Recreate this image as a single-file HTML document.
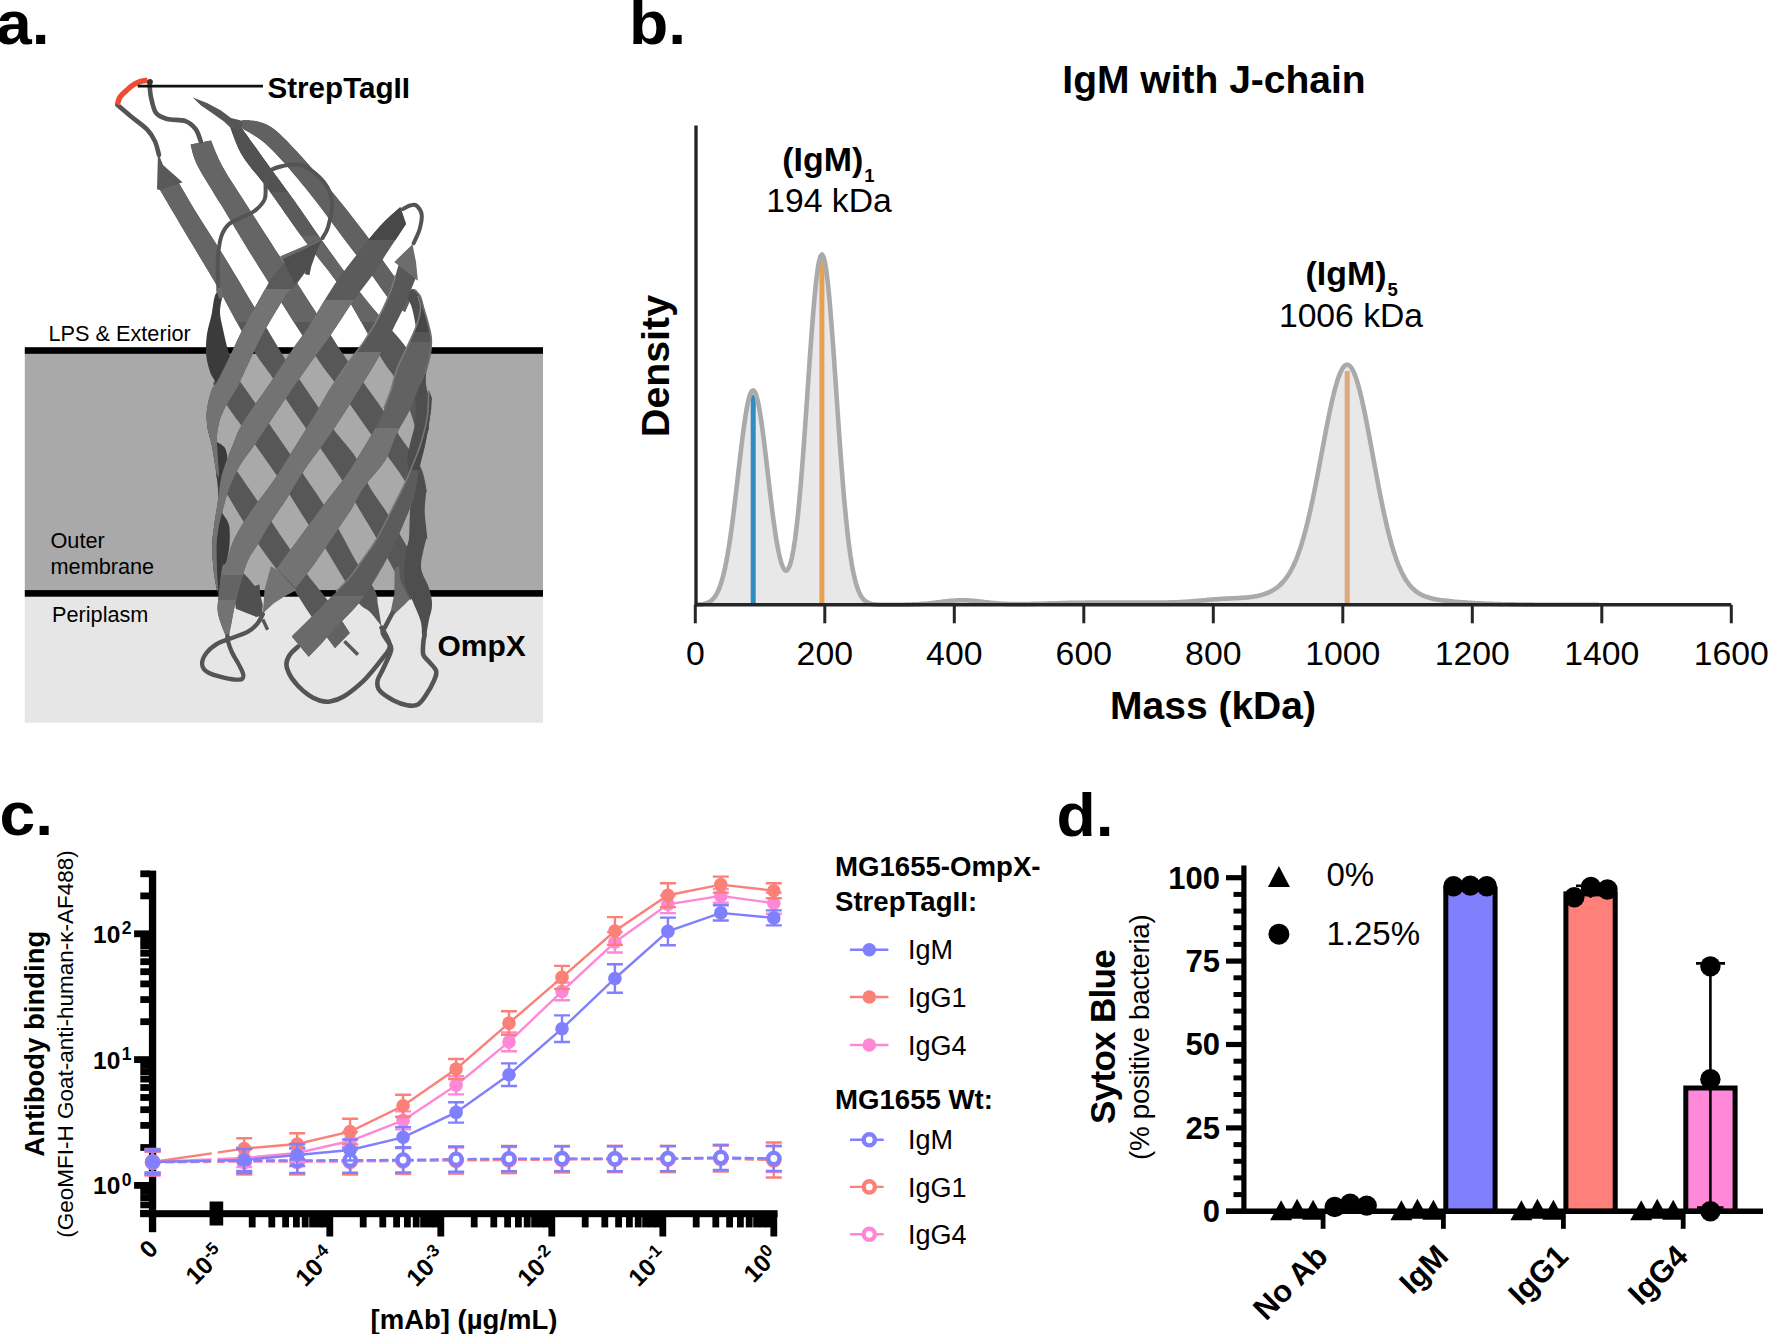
<!DOCTYPE html>
<html lang="en"><head><meta charset="utf-8"><title>Figure</title>
<style>
html,body{margin:0;padding:0;background:#fff;}
body{width:1768px;height:1334px;overflow:hidden;}
svg{display:block;}
text{font-family:"Liberation Sans",Arial,Helvetica,sans-serif;fill:#000;}
.b{font-weight:bold;}
</style></head><body>
<svg width="1768" height="1334" viewBox="0 0 1768 1334">
<rect width="1768" height="1334" fill="#fff"/>

<g id="panel-a">
<defs><clipPath id="cpTop"><rect x="0" y="0.0" width="600" height="322.0"/></clipPath><clipPath id="cpF1"><rect x="0" y="289.0" width="600" height="311.0"/></clipPath><clipPath id="cpF2"><rect x="0" y="300.0" width="600" height="300.0"/></clipPath><clipPath id="cpF2a"><rect x="0" y="0.0" width="600" height="240.0"/></clipPath><clipPath id="cpF3"><rect x="0" y="352.0" width="600" height="288.0"/></clipPath><clipPath id="cpF4"><rect x="0" y="428.0" width="600" height="212.0"/></clipPath><clipPath id="cpEnd"><rect x="0" y="622.0" width="600" height="78.0"/></clipPath><clipPath id="cpU3a"><rect x="0" y="0.0" width="600" height="192.0"/></clipPath><clipPath id="cpU3b"><rect x="0" y="192.0" width="600" height="44.0"/></clipPath><clipPath id="cpF4t"><rect x="0" y="0.0" width="600" height="332.0"/></clipPath><clipPath id="cpF4u"><rect x="0" y="332.0" width="600" height="10.0"/></clipPath><clipPath id="cpF5a"><rect x="0" y="380.0" width="600" height="90.0"/></clipPath><clipPath id="cpF5b"><rect x="0" y="596.0" width="600" height="104.0"/></clipPath><clipPath id="cpF3b"><rect x="0" y="575.0" width="600" height="25.0"/></clipPath></defs>
<text class="b" transform="translate(-4,43.5) scale(1.045,1)" font-size="61.5">a.</text>
<rect x="24.8" y="350" width="518.2" height="243" fill="#a9a9a9"/>
<rect x="24.8" y="593" width="518.2" height="129.8" fill="#e6e6e6"/>
<rect x="24.8" y="347.2" width="518.2" height="6.6" fill="#000"/>
<rect x="24.8" y="590.1" width="518.2" height="6.6" fill="#000"/>
<text x="48.5" y="340.7" font-size="21.7">LPS &amp; Exterior</text>
<text x="50.5" y="548.4" font-size="21.7">Outer</text>
<text x="50.5" y="574.2" font-size="21.7">membrane</text>
<text x="52" y="622.4" font-size="21.7">Periplasm</text>
<text class="b" x="437.5" y="656.3" font-size="30">OmpX</text>
<polygon points="248.0,577.8 254.7,585.9 259.5,584.5 260.1,594.0 262.8,604.7 262.2,615.5 256.1,616.9 235.9,608.8 234.0,596.0 238.0,582.0 242.0,572.0" fill="#505050" />
<path d="M344.4,641.2 L357.9,654.7" fill="none" stroke="#5a5a5a" stroke-width="3.6" stroke-linecap="butt" stroke-linejoin="round"/>
<path d="M216.0,476.0 C217.8,479.0 222.8,487.2 226.8,493.8 C230.8,500.4 234.6,507.3 240.0,515.9 C245.4,524.5 253.2,536.7 259.1,545.3 C265.0,553.9 269.5,559.9 275.3,567.4 C281.1,574.9 288.0,581.8 294.0,590.0 C300.0,598.2 304.7,606.8 311.5,616.4 C318.3,626.0 331.1,642.6 335.0,647.9 L349.8,633.1 C346.6,628.2 337.5,613.7 330.5,604.0 C323.5,594.3 314.1,583.5 307.6,574.7 C301.1,565.9 297.9,560.5 291.5,551.2 C285.1,541.9 275.5,527.9 269.4,518.8 C263.3,509.7 259.8,504.4 254.7,496.8 C249.5,489.2 242.9,479.7 238.5,473.2 C234.1,466.7 229.8,460.5 228.0,458.0 Z" fill="#575757" />
<g clip-path="url(#cpEnd)"><path d="M216.0,476.0 C217.8,479.0 222.8,487.2 226.8,493.8 C230.8,500.4 234.6,507.3 240.0,515.9 C245.4,524.5 253.2,536.7 259.1,545.3 C265.0,553.9 269.5,559.9 275.3,567.4 C281.1,574.9 288.0,581.8 294.0,590.0 C300.0,598.2 304.7,606.8 311.5,616.4 C318.3,626.0 331.1,642.6 335.0,647.9 L349.8,633.1 C346.6,628.2 337.5,613.7 330.5,604.0 C323.5,594.3 314.1,583.5 307.6,574.7 C301.1,565.9 297.9,560.5 291.5,551.2 C285.1,541.9 275.5,527.9 269.4,518.8 C263.3,509.7 259.8,504.4 254.7,496.8 C249.5,489.2 242.9,479.7 238.5,473.2 C234.1,466.7 229.8,460.5 228.0,458.0 Z" fill="#626262" /></g>
<path d="M213.0,384.0 C215.8,388.2 224.9,402.5 229.7,409.4 C234.4,416.3 237.1,419.5 241.5,425.6 C245.9,431.7 250.8,438.6 256.2,446.2 C261.6,453.8 268.2,463.0 273.8,471.2 C279.4,479.4 284.4,486.6 290.0,495.3 C295.6,504.0 301.7,514.4 307.6,523.2 C313.5,532.0 319.4,539.1 325.3,548.2 C331.2,557.3 337.3,568.5 342.9,577.6 C348.4,586.7 354.1,597.3 358.6,603.0 C363.1,608.7 366.2,608.1 370.0,612.0 C373.8,615.9 379.6,623.9 381.5,626.3 L381.5,626.3 C380.9,622.8 379.1,611.0 378.0,605.0 C376.9,599.0 378.3,597.2 374.7,590.0 C371.1,582.8 362.2,571.6 356.2,561.5 C350.2,551.4 344.1,538.9 338.5,529.1 C332.9,519.3 328.0,511.4 322.4,502.6 C316.8,493.8 310.8,485.4 304.7,476.2 C298.6,467.0 291.5,456.3 285.6,447.6 C279.7,438.9 274.5,431.7 269.4,424.1 C264.2,416.5 259.2,408.7 254.7,402.1 C250.2,395.5 247.3,391.4 242.2,384.4 C237.1,377.4 227.0,364.1 224.0,360.0 Z" fill="#575757" />
<path d="M159.0,188.3 C164.4,197.5 181.9,227.0 191.6,243.3 C201.3,259.6 209.0,271.9 217.1,286.0 C225.2,300.1 233.3,316.3 239.9,327.9 C246.5,339.5 251.9,348.0 256.9,355.7 C261.9,363.4 265.4,367.1 270.1,374.1 C274.8,381.1 279.2,389.0 284.9,397.6 C290.5,406.2 298.0,417.0 304.0,425.6 C310.0,434.2 314.9,440.5 320.9,449.1 C326.9,457.7 334.1,467.9 340.0,477.1 C345.9,486.3 350.6,494.7 356.2,504.1 C361.8,513.5 368.4,524.2 373.8,533.5 C379.2,542.8 383.8,551.4 388.5,560.0 C393.2,568.6 398.2,578.3 401.8,585.0 C405.4,591.7 408.6,597.5 410.0,600.0 L426.0,590.0 C424.9,587.0 422.7,579.2 419.4,571.8 C416.1,564.3 411.6,555.1 406.2,545.3 C400.8,535.5 393.2,522.7 387.1,512.9 C381.0,503.1 374.5,495.7 369.4,486.5 C364.2,477.3 362.1,467.3 356.2,457.9 C350.3,448.5 340.5,438.6 334.1,430.0 C327.7,421.4 323.8,415.1 317.9,406.5 C312.0,397.9 304.6,387.0 298.8,378.5 C293.0,370.0 290.9,368.1 283.2,355.7 C275.5,343.3 262.9,321.4 252.7,304.3 C242.5,287.2 231.4,268.3 222.2,253.4 C213.0,238.5 205.0,226.7 197.7,214.8 C190.4,202.9 181.6,187.6 178.4,182.2 Z" fill="#575757" />
<path d="M190.6,144.5 C191.8,148.1 192.4,155.6 197.7,165.9 C203.0,176.2 212.3,190.3 222.2,206.6 C232.0,222.9 241.3,238.9 256.8,263.6 C272.3,288.3 302.1,335.4 315.0,355.0 C327.9,374.6 328.1,373.1 334.1,381.5 C340.1,389.9 345.0,397.1 351.0,405.7 C357.0,414.3 364.3,424.9 370.1,432.9 C375.9,440.9 380.1,446.0 385.6,453.5 C391.1,461.0 398.3,470.2 403.0,478.0 C407.7,485.8 412.2,496.3 414.0,500.0 L427.0,492.0 C426.2,488.3 424.5,476.4 422.0,470.0 C419.5,463.6 415.8,459.2 412.1,453.5 C408.4,447.8 404.5,443.2 399.6,435.9 C394.7,428.5 388.5,418.1 382.6,409.4 C376.7,400.7 370.8,392.8 364.3,383.7 C357.8,374.6 358.0,376.4 343.8,355.0 C329.6,333.6 296.1,281.6 279.2,255.5 C262.3,229.4 252.0,213.4 242.5,198.5 C233.0,183.6 227.4,175.6 222.2,165.9 C216.9,156.2 212.9,144.7 211.0,140.4 Z" fill="#575757" />
<path d="M230.3,127.2 C232.3,131.9 236.1,145.2 242.5,155.7 C248.9,166.2 258.8,176.4 269.0,190.3 C279.2,204.2 291.4,222.6 303.6,239.2 C315.8,255.8 329.4,270.3 342.3,290.1 C355.2,309.9 372.4,343.2 381.2,357.9 C390.0,372.6 390.2,369.4 395.1,378.5 C400.0,387.6 406.8,402.1 410.6,412.4 C414.4,422.6 416.8,435.4 418.0,440.0 L429.0,430.0 C428.6,424.4 428.4,405.5 426.8,396.2 C425.2,386.9 422.6,382.0 419.4,374.1 C416.2,366.2 416.7,361.8 407.6,349.1 C398.5,336.5 378.6,315.8 364.7,298.2 C350.8,280.6 335.5,259.2 324.0,243.3 C312.5,227.4 305.7,216.8 295.5,202.5 C285.3,188.2 271.7,169.9 262.9,157.7 C254.1,145.5 245.9,133.9 242.5,129.2 Z" fill="#575757" />
<path d="M242.5,128.5 C245.9,130.7 256.1,135.8 262.9,141.4 C269.7,147.0 274.8,152.3 283.3,161.8 C291.8,171.3 303.6,185.6 313.8,198.5 C324.0,211.4 334.8,226.6 344.3,239.2 C353.8,251.8 363.2,263.7 370.8,273.8 C378.4,283.9 384.3,293.6 390.0,300.0 C395.7,306.4 402.5,310.0 405.0,312.0 L412.0,296.0 C410.2,294.2 405.5,290.4 401.0,285.0 C396.5,279.6 391.1,272.2 385.0,263.6 C378.9,255.0 374.9,246.7 364.7,233.1 C354.5,219.5 337.6,198.1 324.0,182.2 C310.4,166.2 293.5,147.2 283.3,137.4 C273.1,127.6 269.7,126.0 262.9,123.1 C256.1,120.2 245.9,120.6 242.5,120.1 Z" fill="#575757" />
<g clip-path="url(#cpTop)">
<path d="M159.0,188.3 C164.4,197.5 181.9,227.0 191.6,243.3 C201.3,259.6 209.0,271.9 217.1,286.0 C225.2,300.1 233.3,316.3 239.9,327.9 C246.5,339.5 251.9,348.0 256.9,355.7 C261.9,363.4 265.4,367.1 270.1,374.1 C274.8,381.1 279.2,389.0 284.9,397.6 C290.5,406.2 298.0,417.0 304.0,425.6 C310.0,434.2 314.9,440.5 320.9,449.1 C326.9,457.7 334.1,467.9 340.0,477.1 C345.9,486.3 350.6,494.7 356.2,504.1 C361.8,513.5 368.4,524.2 373.8,533.5 C379.2,542.8 383.8,551.4 388.5,560.0 C393.2,568.6 398.2,578.3 401.8,585.0 C405.4,591.7 408.6,597.5 410.0,600.0 L426.0,590.0 C424.9,587.0 422.7,579.2 419.4,571.8 C416.1,564.3 411.6,555.1 406.2,545.3 C400.8,535.5 393.2,522.7 387.1,512.9 C381.0,503.1 374.5,495.7 369.4,486.5 C364.2,477.3 362.1,467.3 356.2,457.9 C350.3,448.5 340.5,438.6 334.1,430.0 C327.7,421.4 323.8,415.1 317.9,406.5 C312.0,397.9 304.6,387.0 298.8,378.5 C293.0,370.0 290.9,368.1 283.2,355.7 C275.5,343.3 262.9,321.4 252.7,304.3 C242.5,287.2 231.4,268.3 222.2,253.4 C213.0,238.5 205.0,226.7 197.7,214.8 C190.4,202.9 181.6,187.6 178.4,182.2 Z" fill="#656565" />
<path d="M190.6,144.5 C191.8,148.1 192.4,155.6 197.7,165.9 C203.0,176.2 212.3,190.3 222.2,206.6 C232.0,222.9 241.3,238.9 256.8,263.6 C272.3,288.3 302.1,335.4 315.0,355.0 C327.9,374.6 328.1,373.1 334.1,381.5 C340.1,389.9 345.0,397.1 351.0,405.7 C357.0,414.3 364.3,424.9 370.1,432.9 C375.9,440.9 380.1,446.0 385.6,453.5 C391.1,461.0 398.3,470.2 403.0,478.0 C407.7,485.8 412.2,496.3 414.0,500.0 L427.0,492.0 C426.2,488.3 424.5,476.4 422.0,470.0 C419.5,463.6 415.8,459.2 412.1,453.5 C408.4,447.8 404.5,443.2 399.6,435.9 C394.7,428.5 388.5,418.1 382.6,409.4 C376.7,400.7 370.8,392.8 364.3,383.7 C357.8,374.6 358.0,376.4 343.8,355.0 C329.6,333.6 296.1,281.6 279.2,255.5 C262.3,229.4 252.0,213.4 242.5,198.5 C233.0,183.6 227.4,175.6 222.2,165.9 C216.9,156.2 212.9,144.7 211.0,140.4 Z" fill="#656565" />
<path d="M230.3,127.2 C232.3,131.9 236.1,145.2 242.5,155.7 C248.9,166.2 258.8,176.4 269.0,190.3 C279.2,204.2 291.4,222.6 303.6,239.2 C315.8,255.8 329.4,270.3 342.3,290.1 C355.2,309.9 372.4,343.2 381.2,357.9 C390.0,372.6 390.2,369.4 395.1,378.5 C400.0,387.6 406.8,402.1 410.6,412.4 C414.4,422.6 416.8,435.4 418.0,440.0 L429.0,430.0 C428.6,424.4 428.4,405.5 426.8,396.2 C425.2,386.9 422.6,382.0 419.4,374.1 C416.2,366.2 416.7,361.8 407.6,349.1 C398.5,336.5 378.6,315.8 364.7,298.2 C350.8,280.6 335.5,259.2 324.0,243.3 C312.5,227.4 305.7,216.8 295.5,202.5 C285.3,188.2 271.7,169.9 262.9,157.7 C254.1,145.5 245.9,133.9 242.5,129.2 Z" fill="#656565" />
<path d="M242.5,128.5 C245.9,130.7 256.1,135.8 262.9,141.4 C269.7,147.0 274.8,152.3 283.3,161.8 C291.8,171.3 303.6,185.6 313.8,198.5 C324.0,211.4 334.8,226.6 344.3,239.2 C353.8,251.8 363.2,263.7 370.8,273.8 C378.4,283.9 384.3,293.6 390.0,300.0 C395.7,306.4 402.5,310.0 405.0,312.0 L412.0,296.0 C410.2,294.2 405.5,290.4 401.0,285.0 C396.5,279.6 391.1,272.2 385.0,263.6 C378.9,255.0 374.9,246.7 364.7,233.1 C354.5,219.5 337.6,198.1 324.0,182.2 C310.4,166.2 293.5,147.2 283.3,137.4 C273.1,127.6 269.7,126.0 262.9,123.1 C256.1,120.2 245.9,120.6 242.5,120.1 Z" fill="#616161" />
</g>
<g clip-path="url(#cpU3a)"><path d="M230.3,127.2 C232.3,131.9 236.1,145.2 242.5,155.7 C248.9,166.2 258.8,176.4 269.0,190.3 C279.2,204.2 291.4,222.6 303.6,239.2 C315.8,255.8 329.4,270.3 342.3,290.1 C355.2,309.9 372.4,343.2 381.2,357.9 C390.0,372.6 390.2,369.4 395.1,378.5 C400.0,387.6 406.8,402.1 410.6,412.4 C414.4,422.6 416.8,435.4 418.0,440.0 L429.0,430.0 C428.6,424.4 428.4,405.5 426.8,396.2 C425.2,386.9 422.6,382.0 419.4,374.1 C416.2,366.2 416.7,361.8 407.6,349.1 C398.5,336.5 378.6,315.8 364.7,298.2 C350.8,280.6 335.5,259.2 324.0,243.3 C312.5,227.4 305.7,216.8 295.5,202.5 C285.3,188.2 271.7,169.9 262.9,157.7 C254.1,145.5 245.9,133.9 242.5,129.2 Z" fill="#525252" /></g>
<g clip-path="url(#cpU3b)"><path d="M230.3,127.2 C232.3,131.9 236.1,145.2 242.5,155.7 C248.9,166.2 258.8,176.4 269.0,190.3 C279.2,204.2 291.4,222.6 303.6,239.2 C315.8,255.8 329.4,270.3 342.3,290.1 C355.2,309.9 372.4,343.2 381.2,357.9 C390.0,372.6 390.2,369.4 395.1,378.5 C400.0,387.6 406.8,402.1 410.6,412.4 C414.4,422.6 416.8,435.4 418.0,440.0 L429.0,430.0 C428.6,424.4 428.4,405.5 426.8,396.2 C425.2,386.9 422.6,382.0 419.4,374.1 C416.2,366.2 416.7,361.8 407.6,349.1 C398.5,336.5 378.6,315.8 364.7,298.2 C350.8,280.6 335.5,259.2 324.0,243.3 C312.5,227.4 305.7,216.8 295.5,202.5 C285.3,188.2 271.7,169.9 262.9,157.7 C254.1,145.5 245.9,133.9 242.5,129.2 Z" fill="#5b5b5b" /></g>
<polygon points="192.7,97.6 207.0,103.0 221.0,110.5 231.0,118.0 243.0,121.0 242.5,129.5 230.3,127.5 224.0,121.5 212.0,113.0 201.0,105.5" fill="#565656" />
<path d="M220.0,291.0 C219.2,291.8 216.4,291.6 215.0,295.5 C213.6,299.4 212.9,307.9 211.6,314.4 C210.2,320.9 207.8,327.9 206.9,334.6 C206.0,341.4 205.6,348.6 206.2,354.9 C206.8,361.2 208.6,367.5 210.2,372.4 C211.8,377.2 215.7,380.2 216.0,384.0 C216.3,387.8 213.5,390.7 212.0,395.0 C210.5,399.3 207.8,404.5 207.0,410.0 C206.2,415.5 206.7,422.1 207.5,427.8 C208.3,433.5 210.2,437.3 211.6,444.0 C212.9,450.7 214.5,459.2 215.6,468.2 C216.7,477.2 218.5,488.4 218.3,497.9 C218.1,507.3 215.3,517.0 214.3,524.9 C213.3,532.8 212.4,537.6 212.3,545.1 C212.2,552.6 212.8,562.5 213.6,570.0 C214.4,577.5 215.9,585.0 217.0,590.0 C218.1,595.0 219.5,598.3 220.0,600.0 L222.0,600.0 C222.3,596.7 223.2,586.7 224.0,580.0 C224.8,573.3 226.1,565.8 227.0,560.0 C227.9,554.2 229.2,551.0 229.5,545.1 C229.8,539.2 230.2,530.4 229.0,524.9 C227.8,519.4 223.6,516.5 222.0,512.0 C220.4,507.5 219.7,503.6 219.5,497.9 C219.3,492.2 219.8,484.0 221.0,478.0 C222.2,472.0 226.3,467.0 227.0,462.0 C227.7,457.0 227.0,451.7 225.0,448.0 C223.0,444.3 217.3,443.3 215.0,440.0 C212.7,436.7 211.2,433.0 211.0,428.0 C210.8,423.0 211.8,416.0 214.0,410.0 C216.2,404.0 221.0,397.0 224.0,392.0 C227.0,387.0 230.8,385.3 232.0,380.0 C233.2,374.7 231.8,365.3 231.0,360.0 C230.2,354.7 228.8,353.5 227.4,348.1 C226.0,342.8 223.9,333.7 222.7,327.9 C221.5,322.1 220.2,317.8 220.0,313.1 C219.8,308.4 221.0,302.8 221.7,299.6 C222.4,296.4 223.6,294.9 224.0,294.0 Z" fill="#3b3b3b" />
<path d="M412.0,289.0 C413.0,289.8 416.3,292.0 418.0,294.0 C419.7,296.0 420.4,296.1 422.0,300.9 C423.6,305.6 425.7,316.2 427.3,322.5 C428.9,328.8 430.9,333.3 431.4,338.7 C431.8,344.1 430.9,348.8 430.0,354.9 C429.1,361.0 426.5,369.2 426.0,375.1 C425.5,381.0 426.1,385.3 427.0,390.0 C427.9,394.7 431.1,397.9 431.4,403.5 C431.7,409.1 430.3,416.9 428.7,423.7 C427.1,430.4 423.9,437.9 422.0,444.0 C420.1,450.1 417.3,454.5 417.5,460.1 C417.7,465.7 421.9,472.5 423.3,477.7 C424.7,482.9 425.8,485.6 426.0,491.2 C426.2,496.8 424.5,503.5 424.7,511.4 C424.9,519.3 427.1,533.6 427.3,538.4 C427.5,543.2 427.1,535.2 426.0,540.0 C424.9,544.8 420.6,559.1 421.0,567.0 C421.4,574.9 426.8,580.9 428.7,587.2 C430.6,593.5 432.1,599.1 432.1,604.7 C432.1,610.3 429.7,615.5 428.7,620.9 C427.7,626.3 426.4,634.4 426.0,637.1 L422.0,634.4 C421.8,632.1 422.2,626.5 420.6,620.9 C419.0,615.3 415.2,607.4 412.5,600.7 C409.8,594.0 405.5,588.6 404.4,580.5 C403.3,572.4 405.2,559.1 406.0,552.0 C406.8,544.9 408.3,544.8 409.0,538.0 C409.7,531.2 409.5,518.8 410.0,511.0 C410.5,503.2 412.0,496.7 412.0,491.0 C412.0,485.3 410.8,482.2 410.0,477.0 C409.2,471.8 407.0,465.5 407.0,460.0 C407.0,454.5 408.7,450.1 410.0,444.0 C411.3,437.9 414.0,430.4 415.0,423.7 C416.0,416.9 416.3,409.1 416.0,403.5 C415.7,397.9 413.7,394.8 413.0,390.0 C412.3,385.2 411.5,380.8 412.0,375.0 C412.5,369.2 415.2,360.8 416.0,355.0 C416.8,349.2 417.2,345.5 417.0,340.0 C416.8,334.5 416.0,327.8 415.0,322.0 C414.0,316.2 412.7,309.3 411.0,305.0 C409.3,300.7 406.0,297.5 405.0,296.0 Z" fill="#4e4e4e" />
<polygon points="394.7,567.7 399.0,566.5 400.4,580.5 409.8,599.3 404.4,604.7 393.6,614.9 390.3,613.5 394.3,594.0" fill="#6a6a6a" />
<path d="M428.7,390.0 C428.5,394.5 428.6,408.0 427.3,417.0 C426.0,426.0 423.1,435.9 420.6,444.0 C418.1,452.1 415.2,458.8 412.5,465.5 C409.8,472.2 408.0,476.8 404.4,484.4 C400.8,492.0 395.6,502.1 390.9,511.4 C386.2,520.7 380.6,532.3 376.1,540.0 C371.6,547.7 368.3,551.4 364.0,557.5 C359.7,563.6 356.1,569.6 350.5,576.4 C344.9,583.1 336.4,591.5 330.2,598.0 C323.9,604.5 319.4,609.1 313.0,615.5 C306.6,621.9 295.3,632.9 291.8,636.4 L308.7,656.7 C311.2,654.1 318.8,646.3 323.5,641.2 C328.2,636.1 331.1,632.6 337.0,626.3 C342.9,620.0 352.8,610.4 358.6,603.4 C364.4,596.4 367.5,591.5 372.0,584.5 C376.5,577.5 381.4,569.0 385.5,561.6 C389.6,554.2 393.4,546.1 396.3,540.0 C399.2,533.9 400.2,531.9 403.1,524.9 C406.0,517.9 411.2,507.0 413.9,497.9 C416.5,488.8 417.2,478.6 419.0,470.0 C420.8,461.4 423.0,454.3 424.7,446.6 C426.4,438.9 427.8,431.8 429.0,423.7 C430.2,415.6 431.3,402.3 431.8,398.0 Z" fill="#5c5c5c" />
<g clip-path="url(#cpF5a)"><path d="M428.7,390.0 C428.5,394.5 428.6,408.0 427.3,417.0 C426.0,426.0 423.1,435.9 420.6,444.0 C418.1,452.1 415.2,458.8 412.5,465.5 C409.8,472.2 408.0,476.8 404.4,484.4 C400.8,492.0 395.6,502.1 390.9,511.4 C386.2,520.7 380.6,532.3 376.1,540.0 C371.6,547.7 368.3,551.4 364.0,557.5 C359.7,563.6 356.1,569.6 350.5,576.4 C344.9,583.1 336.4,591.5 330.2,598.0 C323.9,604.5 319.4,609.1 313.0,615.5 C306.6,621.9 295.3,632.9 291.8,636.4 L308.7,656.7 C311.2,654.1 318.8,646.3 323.5,641.2 C328.2,636.1 331.1,632.6 337.0,626.3 C342.9,620.0 352.8,610.4 358.6,603.4 C364.4,596.4 367.5,591.5 372.0,584.5 C376.5,577.5 381.4,569.0 385.5,561.6 C389.6,554.2 393.4,546.1 396.3,540.0 C399.2,533.9 400.2,531.9 403.1,524.9 C406.0,517.9 411.2,507.0 413.9,497.9 C416.5,488.8 417.2,478.6 419.0,470.0 C420.8,461.4 423.0,454.3 424.7,446.6 C426.4,438.9 427.8,431.8 429.0,423.7 C430.2,415.6 431.3,402.3 431.8,398.0 Z" fill="#484848" /></g>
<g clip-path="url(#cpF5b)"><path d="M428.7,390.0 C428.5,394.5 428.6,408.0 427.3,417.0 C426.0,426.0 423.1,435.9 420.6,444.0 C418.1,452.1 415.2,458.8 412.5,465.5 C409.8,472.2 408.0,476.8 404.4,484.4 C400.8,492.0 395.6,502.1 390.9,511.4 C386.2,520.7 380.6,532.3 376.1,540.0 C371.6,547.7 368.3,551.4 364.0,557.5 C359.7,563.6 356.1,569.6 350.5,576.4 C344.9,583.1 336.4,591.5 330.2,598.0 C323.9,604.5 319.4,609.1 313.0,615.5 C306.6,621.9 295.3,632.9 291.8,636.4 L308.7,656.7 C311.2,654.1 318.8,646.3 323.5,641.2 C328.2,636.1 331.1,632.6 337.0,626.3 C342.9,620.0 352.8,610.4 358.6,603.4 C364.4,596.4 367.5,591.5 372.0,584.5 C376.5,577.5 381.4,569.0 385.5,561.6 C389.6,554.2 393.4,546.1 396.3,540.0 C399.2,533.9 400.2,531.9 403.1,524.9 C406.0,517.9 411.2,507.0 413.9,497.9 C416.5,488.8 417.2,478.6 419.0,470.0 C420.8,461.4 423.0,454.3 424.7,446.6 C426.4,438.9 427.8,431.8 429.0,423.7 C430.2,415.6 431.3,402.3 431.8,398.0 Z" fill="#6a6a6a" /></g>
<path d="M428.7,392.0 C428.5,396.2 428.6,408.3 427.3,417.0 C426.0,425.7 423.1,435.9 420.6,444.0 C418.1,452.1 415.2,458.8 412.5,465.5 C409.8,472.2 408.0,476.8 404.4,484.4 C400.8,492.0 395.6,502.1 390.9,511.4 C386.2,520.7 380.6,532.3 376.1,540.0 C371.6,547.7 368.3,551.4 364.0,557.5 C359.7,563.6 355.2,570.6 350.5,576.4 C345.8,582.1 338.4,589.4 336.0,592.0" fill="none" stroke="#787878" stroke-width="1.6" stroke-linecap="butt" stroke-linejoin="round"/>
<path d="M411.2,288.8 C412.3,289.9 416.3,292.4 417.9,295.5 C419.5,298.6 420.8,302.8 420.6,307.7 C420.4,312.6 418.9,318.7 416.6,325.2 C414.4,331.7 410.4,339.5 407.1,346.8 C403.8,354.1 399.7,361.8 397.0,369.0 C394.3,376.2 393.7,381.7 390.9,390.0 C388.1,398.3 384.6,409.4 380.1,419.0 C375.6,428.6 369.6,437.9 364.0,447.3 C358.4,456.7 352.5,466.5 346.4,475.3 C340.3,484.1 334.4,490.8 327.5,500.0 C320.6,509.2 313.1,519.1 304.7,530.6 C296.2,542.1 281.4,562.4 276.8,568.8 L295.9,587.9 C299.1,583.7 308.1,572.4 315.0,562.9 C321.9,553.4 331.0,539.7 337.1,530.6 C343.2,521.5 347.3,515.8 351.8,508.5 C356.3,501.2 358.4,495.2 364.0,487.1 C369.6,479.0 380.1,468.9 385.5,460.1 C390.9,451.3 392.2,442.8 396.3,434.5 C400.4,426.2 406.2,417.6 409.8,410.2 C413.4,402.8 415.4,395.9 417.9,390.0 C420.4,384.1 422.7,381.0 424.7,375.1 C426.7,369.2 428.9,361.0 430.0,354.9 C431.1,348.8 431.8,344.1 431.4,338.7 C430.9,333.3 428.9,328.8 427.3,322.5 C425.7,316.2 423.9,306.3 422.0,300.9 C420.1,295.5 417.0,291.8 416.0,290.0 Z" fill="#626262" />
<g clip-path="url(#cpF4)"><path d="M411.2,288.8 C412.3,289.9 416.3,292.4 417.9,295.5 C419.5,298.6 420.8,302.8 420.6,307.7 C420.4,312.6 418.9,318.7 416.6,325.2 C414.4,331.7 410.4,339.5 407.1,346.8 C403.8,354.1 399.7,361.8 397.0,369.0 C394.3,376.2 393.7,381.7 390.9,390.0 C388.1,398.3 384.6,409.4 380.1,419.0 C375.6,428.6 369.6,437.9 364.0,447.3 C358.4,456.7 352.5,466.5 346.4,475.3 C340.3,484.1 334.4,490.8 327.5,500.0 C320.6,509.2 313.1,519.1 304.7,530.6 C296.2,542.1 281.4,562.4 276.8,568.8 L295.9,587.9 C299.1,583.7 308.1,572.4 315.0,562.9 C321.9,553.4 331.0,539.7 337.1,530.6 C343.2,521.5 347.3,515.8 351.8,508.5 C356.3,501.2 358.4,495.2 364.0,487.1 C369.6,479.0 380.1,468.9 385.5,460.1 C390.9,451.3 392.2,442.8 396.3,434.5 C400.4,426.2 406.2,417.6 409.8,410.2 C413.4,402.8 415.4,395.9 417.9,390.0 C420.4,384.1 422.7,381.0 424.7,375.1 C426.7,369.2 428.9,361.0 430.0,354.9 C431.1,348.8 431.8,344.1 431.4,338.7 C430.9,333.3 428.9,328.8 427.3,322.5 C425.7,316.2 423.9,306.3 422.0,300.9 C420.1,295.5 417.0,291.8 416.0,290.0 Z" fill="#737373" /></g>
<g clip-path="url(#cpF4t)"><path d="M411.2,288.8 C412.3,289.9 416.3,292.4 417.9,295.5 C419.5,298.6 420.8,302.8 420.6,307.7 C420.4,312.6 418.9,318.7 416.6,325.2 C414.4,331.7 410.4,339.5 407.1,346.8 C403.8,354.1 399.7,361.8 397.0,369.0 C394.3,376.2 393.7,381.7 390.9,390.0 C388.1,398.3 384.6,409.4 380.1,419.0 C375.6,428.6 369.6,437.9 364.0,447.3 C358.4,456.7 352.5,466.5 346.4,475.3 C340.3,484.1 334.4,490.8 327.5,500.0 C320.6,509.2 313.1,519.1 304.7,530.6 C296.2,542.1 281.4,562.4 276.8,568.8 L295.9,587.9 C299.1,583.7 308.1,572.4 315.0,562.9 C321.9,553.4 331.0,539.7 337.1,530.6 C343.2,521.5 347.3,515.8 351.8,508.5 C356.3,501.2 358.4,495.2 364.0,487.1 C369.6,479.0 380.1,468.9 385.5,460.1 C390.9,451.3 392.2,442.8 396.3,434.5 C400.4,426.2 406.2,417.6 409.8,410.2 C413.4,402.8 415.4,395.9 417.9,390.0 C420.4,384.1 422.7,381.0 424.7,375.1 C426.7,369.2 428.9,361.0 430.0,354.9 C431.1,348.8 431.8,344.1 431.4,338.7 C430.9,333.3 428.9,328.8 427.3,322.5 C425.7,316.2 423.9,306.3 422.0,300.9 C420.1,295.5 417.0,291.8 416.0,290.0 Z" fill="#464646" /></g>
<g clip-path="url(#cpF4u)"><path d="M411.2,288.8 C412.3,289.9 416.3,292.4 417.9,295.5 C419.5,298.6 420.8,302.8 420.6,307.7 C420.4,312.6 418.9,318.7 416.6,325.2 C414.4,331.7 410.4,339.5 407.1,346.8 C403.8,354.1 399.7,361.8 397.0,369.0 C394.3,376.2 393.7,381.7 390.9,390.0 C388.1,398.3 384.6,409.4 380.1,419.0 C375.6,428.6 369.6,437.9 364.0,447.3 C358.4,456.7 352.5,466.5 346.4,475.3 C340.3,484.1 334.4,490.8 327.5,500.0 C320.6,509.2 313.1,519.1 304.7,530.6 C296.2,542.1 281.4,562.4 276.8,568.8 L295.9,587.9 C299.1,583.7 308.1,572.4 315.0,562.9 C321.9,553.4 331.0,539.7 337.1,530.6 C343.2,521.5 347.3,515.8 351.8,508.5 C356.3,501.2 358.4,495.2 364.0,487.1 C369.6,479.0 380.1,468.9 385.5,460.1 C390.9,451.3 392.2,442.8 396.3,434.5 C400.4,426.2 406.2,417.6 409.8,410.2 C413.4,402.8 415.4,395.9 417.9,390.0 C420.4,384.1 422.7,381.0 424.7,375.1 C426.7,369.2 428.9,361.0 430.0,354.9 C431.1,348.8 431.8,344.1 431.4,338.7 C430.9,333.3 428.9,328.8 427.3,322.5 C425.7,316.2 423.9,306.3 422.0,300.9 C420.1,295.5 417.0,291.8 416.0,290.0 Z" fill="#555555" /></g>
<path d="M414.0,289.5 C415.0,290.6 418.4,292.9 420.0,296.0 C421.6,299.1 422.2,303.6 423.5,308.0 C424.8,312.4 426.5,317.4 427.8,322.5 C429.1,327.6 430.8,333.3 431.2,338.7 C431.6,344.1 431.0,349.0 430.0,354.9 C429.0,360.8 425.8,370.8 425.0,374.0" fill="none" stroke="#6e6e6e" stroke-width="1.8" stroke-linecap="butt" stroke-linejoin="round"/>
<path d="M417.9,296.0 C418.3,297.9 420.8,302.8 420.6,307.7 C420.4,312.6 418.9,318.7 416.6,325.2 C414.4,331.7 410.4,339.5 407.1,346.8 C403.8,354.1 399.7,361.8 397.0,369.0 C394.3,376.2 393.1,383.5 390.9,390.0 C388.7,396.5 385.1,405.0 384.0,408.0" fill="none" stroke="#7a7a7a" stroke-width="1.6" stroke-linecap="butt" stroke-linejoin="round"/>
<polygon points="270.9,566.3 276.5,569.5 296.6,589.9 284.4,596.6 273.6,603.4 262.8,613.5 264.5,590.0" fill="#737373" />
<path d="M399.5,261.5 C398.1,266.3 394.2,281.3 391.0,290.1 C387.8,298.9 384.6,305.8 380.1,314.4 C375.6,322.9 369.4,333.3 364.0,341.4 C358.6,349.5 353.4,355.1 347.8,363.0 C342.2,370.9 335.4,380.5 330.2,388.6 C325.0,396.7 323.8,400.1 316.8,411.6 C309.9,423.1 296.1,445.3 288.5,457.4 C280.9,469.5 277.2,475.4 270.9,484.4 C264.6,493.4 256.8,502.4 250.7,511.4 C244.6,520.4 238.6,529.9 234.5,538.4 C230.4,546.9 228.0,557.8 226.0,562.6 C224.0,567.4 223.6,561.8 222.4,567.0 C221.2,572.2 219.8,586.6 219.0,594.0 C218.2,601.4 217.1,605.9 217.7,611.5 C218.3,617.1 220.8,623.3 222.4,627.7 C224.0,632.1 226.2,636.3 227.0,638.0 L228.5,638.0 C229.1,635.1 230.6,627.1 231.8,620.9 C233.0,614.7 234.3,607.4 235.9,600.7 C237.5,594.0 239.3,587.2 241.3,580.5 C243.3,573.8 245.3,566.1 248.0,560.2 C250.7,554.3 253.6,551.4 257.4,545.1 C261.2,538.8 265.9,530.1 270.9,522.2 C275.8,514.3 281.5,506.7 287.1,497.9 C292.7,489.1 297.5,480.2 304.6,469.6 C311.8,459.0 322.4,445.5 330.0,434.5 C337.6,423.5 344.0,413.4 350.3,403.5 C356.6,393.6 362.6,384.1 368.0,375.1 C373.4,366.1 378.5,357.4 382.8,349.5 C387.1,341.6 390.0,335.1 393.6,327.9 C397.2,320.7 401.7,312.1 404.4,306.3 C407.1,300.5 407.8,297.8 409.8,292.8 C411.8,287.8 415.4,279.2 416.5,276.5 Z" fill="#585858" />
<g clip-path="url(#cpF3)"><path d="M399.5,261.5 C398.1,266.3 394.2,281.3 391.0,290.1 C387.8,298.9 384.6,305.8 380.1,314.4 C375.6,322.9 369.4,333.3 364.0,341.4 C358.6,349.5 353.4,355.1 347.8,363.0 C342.2,370.9 335.4,380.5 330.2,388.6 C325.0,396.7 323.8,400.1 316.8,411.6 C309.9,423.1 296.1,445.3 288.5,457.4 C280.9,469.5 277.2,475.4 270.9,484.4 C264.6,493.4 256.8,502.4 250.7,511.4 C244.6,520.4 238.6,529.9 234.5,538.4 C230.4,546.9 228.0,557.8 226.0,562.6 C224.0,567.4 223.6,561.8 222.4,567.0 C221.2,572.2 219.8,586.6 219.0,594.0 C218.2,601.4 217.1,605.9 217.7,611.5 C218.3,617.1 220.8,623.3 222.4,627.7 C224.0,632.1 226.2,636.3 227.0,638.0 L228.5,638.0 C229.1,635.1 230.6,627.1 231.8,620.9 C233.0,614.7 234.3,607.4 235.9,600.7 C237.5,594.0 239.3,587.2 241.3,580.5 C243.3,573.8 245.3,566.1 248.0,560.2 C250.7,554.3 253.6,551.4 257.4,545.1 C261.2,538.8 265.9,530.1 270.9,522.2 C275.8,514.3 281.5,506.7 287.1,497.9 C292.7,489.1 297.5,480.2 304.6,469.6 C311.8,459.0 322.4,445.5 330.0,434.5 C337.6,423.5 344.0,413.4 350.3,403.5 C356.6,393.6 362.6,384.1 368.0,375.1 C373.4,366.1 378.5,357.4 382.8,349.5 C387.1,341.6 390.0,335.1 393.6,327.9 C397.2,320.7 401.7,312.1 404.4,306.3 C407.1,300.5 407.8,297.8 409.8,292.8 C411.8,287.8 415.4,279.2 416.5,276.5 Z" fill="#737373" /></g>
<g clip-path="url(#cpF3b)"><path d="M399.5,261.5 C398.1,266.3 394.2,281.3 391.0,290.1 C387.8,298.9 384.6,305.8 380.1,314.4 C375.6,322.9 369.4,333.3 364.0,341.4 C358.6,349.5 353.4,355.1 347.8,363.0 C342.2,370.9 335.4,380.5 330.2,388.6 C325.0,396.7 323.8,400.1 316.8,411.6 C309.9,423.1 296.1,445.3 288.5,457.4 C280.9,469.5 277.2,475.4 270.9,484.4 C264.6,493.4 256.8,502.4 250.7,511.4 C244.6,520.4 238.6,529.9 234.5,538.4 C230.4,546.9 228.0,557.8 226.0,562.6 C224.0,567.4 223.6,561.8 222.4,567.0 C221.2,572.2 219.8,586.6 219.0,594.0 C218.2,601.4 217.1,605.9 217.7,611.5 C218.3,617.1 220.8,623.3 222.4,627.7 C224.0,632.1 226.2,636.3 227.0,638.0 L228.5,638.0 C229.1,635.1 230.6,627.1 231.8,620.9 C233.0,614.7 234.3,607.4 235.9,600.7 C237.5,594.0 239.3,587.2 241.3,580.5 C243.3,573.8 245.3,566.1 248.0,560.2 C250.7,554.3 253.6,551.4 257.4,545.1 C261.2,538.8 265.9,530.1 270.9,522.2 C275.8,514.3 281.5,506.7 287.1,497.9 C292.7,489.1 297.5,480.2 304.6,469.6 C311.8,459.0 322.4,445.5 330.0,434.5 C337.6,423.5 344.0,413.4 350.3,403.5 C356.6,393.6 362.6,384.1 368.0,375.1 C373.4,366.1 378.5,357.4 382.8,349.5 C387.1,341.6 390.0,335.1 393.6,327.9 C397.2,320.7 401.7,312.1 404.4,306.3 C407.1,300.5 407.8,297.8 409.8,292.8 C411.8,287.8 415.4,279.2 416.5,276.5 Z" fill="#646464" /></g>
<polygon points="412.5,244.3 394.3,261.9 417.9,280.7 416.0,262.0" fill="#6c6c6c" />
<path d="M395.6,275.0 C394.8,277.5 393.6,283.5 391.0,290.1 C388.4,296.7 384.6,305.8 380.1,314.4 C375.6,322.9 369.4,333.3 364.0,341.4 C358.6,349.5 353.0,355.7 347.8,363.0 C342.6,370.3 335.5,381.3 333.0,385.0" fill="none" stroke="#7a7a7a" stroke-width="1.6" stroke-linecap="butt" stroke-linejoin="round"/>
<path d="M400.3,207.0 C396.9,210.2 387.1,218.4 380.1,226.0 C373.2,233.6 366.2,242.6 358.6,252.4 C351.0,262.2 342.6,272.3 334.3,284.7 C326.0,297.1 315.7,315.7 308.7,326.5 C301.7,337.3 298.8,340.3 292.5,349.5 C286.2,358.7 279.0,370.0 270.9,381.9 C262.8,393.8 250.3,410.6 244.0,421.0 C237.7,431.4 236.8,435.2 233.2,444.0 C229.6,452.8 224.9,464.6 222.4,473.6 C219.9,482.6 219.7,489.3 218.3,497.9 C217.0,506.4 215.3,517.0 214.3,524.9 C213.3,532.8 212.4,537.6 212.3,545.1 C212.2,552.6 212.8,562.5 213.6,570.0 C214.4,577.5 216.4,586.7 217.0,590.0 L218.0,590.0 C217.8,586.7 217.2,577.5 217.0,570.0 C216.8,562.5 216.2,552.5 216.5,545.0 C216.8,537.5 218.0,530.5 219.0,524.9 C220.0,519.3 220.7,517.5 222.4,511.4 C224.1,505.3 226.2,496.1 229.1,488.5 C232.0,480.9 235.8,472.5 239.9,465.5 C244.0,458.5 248.4,453.8 253.4,446.6 C258.4,439.4 263.1,432.1 269.6,422.4 C276.1,412.7 285.5,398.7 292.5,388.6 C299.5,378.5 305.1,370.4 311.4,361.6 C317.6,352.8 323.0,346.1 330.0,336.0 C337.0,325.9 346.0,311.2 353.2,300.9 C360.4,290.6 368.0,281.6 373.4,274.0 C378.8,266.4 380.1,263.4 385.5,255.1 C390.9,246.8 402.6,229.1 406.0,223.9 Z" fill="#5b5b5b" />
<g clip-path="url(#cpF2a)"><path d="M400.3,207.0 C396.9,210.2 387.1,218.4 380.1,226.0 C373.2,233.6 366.2,242.6 358.6,252.4 C351.0,262.2 342.6,272.3 334.3,284.7 C326.0,297.1 315.7,315.7 308.7,326.5 C301.7,337.3 298.8,340.3 292.5,349.5 C286.2,358.7 279.0,370.0 270.9,381.9 C262.8,393.8 250.3,410.6 244.0,421.0 C237.7,431.4 236.8,435.2 233.2,444.0 C229.6,452.8 224.9,464.6 222.4,473.6 C219.9,482.6 219.7,489.3 218.3,497.9 C217.0,506.4 215.3,517.0 214.3,524.9 C213.3,532.8 212.4,537.6 212.3,545.1 C212.2,552.6 212.8,562.5 213.6,570.0 C214.4,577.5 216.4,586.7 217.0,590.0 L218.0,590.0 C217.8,586.7 217.2,577.5 217.0,570.0 C216.8,562.5 216.2,552.5 216.5,545.0 C216.8,537.5 218.0,530.5 219.0,524.9 C220.0,519.3 220.7,517.5 222.4,511.4 C224.1,505.3 226.2,496.1 229.1,488.5 C232.0,480.9 235.8,472.5 239.9,465.5 C244.0,458.5 248.4,453.8 253.4,446.6 C258.4,439.4 263.1,432.1 269.6,422.4 C276.1,412.7 285.5,398.7 292.5,388.6 C299.5,378.5 305.1,370.4 311.4,361.6 C317.6,352.8 323.0,346.1 330.0,336.0 C337.0,325.9 346.0,311.2 353.2,300.9 C360.4,290.6 368.0,281.6 373.4,274.0 C378.8,266.4 380.1,263.4 385.5,255.1 C390.9,246.8 402.6,229.1 406.0,223.9 Z" fill="#484848" /></g>
<g clip-path="url(#cpF2)"><path d="M400.3,207.0 C396.9,210.2 387.1,218.4 380.1,226.0 C373.2,233.6 366.2,242.6 358.6,252.4 C351.0,262.2 342.6,272.3 334.3,284.7 C326.0,297.1 315.7,315.7 308.7,326.5 C301.7,337.3 298.8,340.3 292.5,349.5 C286.2,358.7 279.0,370.0 270.9,381.9 C262.8,393.8 250.3,410.6 244.0,421.0 C237.7,431.4 236.8,435.2 233.2,444.0 C229.6,452.8 224.9,464.6 222.4,473.6 C219.9,482.6 219.7,489.3 218.3,497.9 C217.0,506.4 215.3,517.0 214.3,524.9 C213.3,532.8 212.4,537.6 212.3,545.1 C212.2,552.6 212.8,562.5 213.6,570.0 C214.4,577.5 216.4,586.7 217.0,590.0 L218.0,590.0 C217.8,586.7 217.2,577.5 217.0,570.0 C216.8,562.5 216.2,552.5 216.5,545.0 C216.8,537.5 218.0,530.5 219.0,524.9 C220.0,519.3 220.7,517.5 222.4,511.4 C224.1,505.3 226.2,496.1 229.1,488.5 C232.0,480.9 235.8,472.5 239.9,465.5 C244.0,458.5 248.4,453.8 253.4,446.6 C258.4,439.4 263.1,432.1 269.6,422.4 C276.1,412.7 285.5,398.7 292.5,388.6 C299.5,378.5 305.1,370.4 311.4,361.6 C317.6,352.8 323.0,346.1 330.0,336.0 C337.0,325.9 346.0,311.2 353.2,300.9 C360.4,290.6 368.0,281.6 373.4,274.0 C378.8,266.4 380.1,263.4 385.5,255.1 C390.9,246.8 402.6,229.1 406.0,223.9 Z" fill="#737373" /></g>
<path d="M285.8,261.8 C283.7,264.2 276.0,272.2 273.0,276.0 C270.0,279.8 270.7,279.4 267.6,284.7 C264.6,290.0 259.1,299.8 254.7,307.7 C250.3,315.6 245.3,324.1 241.3,332.0 C237.3,339.9 234.6,346.6 230.5,354.9 C226.4,363.2 220.2,376.0 217.0,381.9 C213.8,387.8 213.3,385.3 211.6,390.0 C209.9,394.7 207.6,403.9 206.9,410.2 C206.2,416.5 206.7,422.2 207.5,427.8 C208.3,433.4 210.2,437.3 211.6,444.0 C212.9,450.7 214.4,462.5 215.6,468.2 C216.8,473.9 218.4,476.4 219.0,478.0 L219.0,478.0 C218.9,476.3 218.8,473.7 218.5,468.0 C218.2,462.3 217.1,450.7 217.0,444.0 C216.9,437.3 216.9,433.4 218.0,427.8 C219.1,422.2 220.7,416.5 223.7,410.2 C226.7,403.9 233.2,394.7 235.9,390.0 C238.6,385.3 237.7,386.6 239.9,381.9 C242.1,377.2 245.9,368.8 249.3,361.6 C252.7,354.4 256.5,345.7 260.1,338.7 C263.7,331.7 266.4,327.3 270.9,319.8 C275.4,312.3 283.1,299.1 287.1,293.5 C291.2,287.9 292.1,289.9 295.2,286.1 C298.3,282.4 304.2,273.5 306.0,271.0 Z" fill="#5a5a5a" />
<g clip-path="url(#cpF1)"><path d="M285.8,261.8 C283.7,264.2 276.0,272.2 273.0,276.0 C270.0,279.8 270.7,279.4 267.6,284.7 C264.6,290.0 259.1,299.8 254.7,307.7 C250.3,315.6 245.3,324.1 241.3,332.0 C237.3,339.9 234.6,346.6 230.5,354.9 C226.4,363.2 220.2,376.0 217.0,381.9 C213.8,387.8 213.3,385.3 211.6,390.0 C209.9,394.7 207.6,403.9 206.9,410.2 C206.2,416.5 206.7,422.2 207.5,427.8 C208.3,433.4 210.2,437.3 211.6,444.0 C212.9,450.7 214.4,462.5 215.6,468.2 C216.8,473.9 218.4,476.4 219.0,478.0 L219.0,478.0 C218.9,476.3 218.8,473.7 218.5,468.0 C218.2,462.3 217.1,450.7 217.0,444.0 C216.9,437.3 216.9,433.4 218.0,427.8 C219.1,422.2 220.7,416.5 223.7,410.2 C226.7,403.9 233.2,394.7 235.9,390.0 C238.6,385.3 237.7,386.6 239.9,381.9 C242.1,377.2 245.9,368.8 249.3,361.6 C252.7,354.4 256.5,345.7 260.1,338.7 C263.7,331.7 266.4,327.3 270.9,319.8 C275.4,312.3 283.1,299.1 287.1,293.5 C291.2,287.9 292.1,289.9 295.2,286.1 C298.3,282.4 304.2,273.5 306.0,271.0 Z" fill="#737373" /></g>
<polygon points="280.4,256.4 322.9,238.2 316.8,251.0 311.4,265.9 309.4,275.3 304.6,274.0 306.0,270.6 295.0,284.0 284.0,262.5" fill="#4e4e4e" />
<polygon points="280.4,256.4 322.9,238.2 322.0,240.6 282.5,259.5" fill="#6a6a6a" />
<polygon points="158.0,152.6 163.0,165.0 182.5,182.2 178.0,184.0 160.0,190.0 157.0,189.3" fill="#595959" />
<path d="M200.8,141.4 C200.0,139.4 198.2,132.6 195.7,129.2 C193.1,125.8 190.2,122.8 185.5,121.1 C180.8,119.4 172.1,120.4 167.2,119.0 C162.3,117.6 158.7,116.6 156.0,112.9 C153.3,109.2 152.0,101.9 150.9,96.7 C149.8,91.5 149.7,84.5 149.5,82.0" fill="none" stroke="#545454" stroke-width="4.6" stroke-linecap="round" stroke-linejoin="round"/>
<path d="M117.3,104.8 C119.5,106.7 125.6,111.9 130.5,116.0 C135.4,120.1 142.7,125.0 146.8,129.2 C150.9,133.4 153.0,137.1 155.0,141.4 C157.0,145.7 158.3,152.7 159.0,155.0" fill="none" stroke="#545454" stroke-width="4.6" stroke-linecap="round" stroke-linejoin="round"/>
<path d="M117.3,104.6 C117.8,103.3 118.5,99.3 120.0,97.0 C121.5,94.7 124.3,92.5 126.5,90.5 C128.7,88.5 130.6,86.5 133.0,85.0 C135.4,83.5 138.3,82.2 140.7,81.4 C143.1,80.6 146.4,80.6 147.5,80.4" fill="none" stroke="#ef4a32" stroke-width="5.4" stroke-linecap="butt" stroke-linejoin="round"/>
<path d="M218.5,292.0 C218.4,287.4 217.6,272.0 217.7,264.5 C217.8,257.0 218.2,252.2 219.0,247.0 C219.8,241.8 220.7,237.3 222.4,233.5 C224.1,229.7 225.7,226.8 229.1,224.0 C232.5,221.2 238.3,219.2 242.6,217.0 C246.9,214.8 251.1,213.8 254.8,210.7 C258.5,207.6 262.9,204.6 264.9,198.5 C266.9,192.4 263.9,179.4 267.0,174.0 C270.1,168.6 277.2,167.2 283.3,165.9 C289.4,164.6 296.8,163.2 303.6,165.9 C310.4,168.6 319.2,176.1 324.0,182.2 C328.8,188.3 331.4,195.0 332.1,202.5 C332.8,210.0 329.7,221.1 328.1,227.0 C326.5,232.9 323.4,236.2 322.5,238.0" fill="none" stroke="#545454" stroke-width="4.0" stroke-linecap="round" stroke-linejoin="round"/>
<polygon points="216.3,288.8 221.0,287.0 224.5,296.5 219.0,299.0" fill="#6c6c6c" />
<circle cx="150" cy="81.8" r="2.9" fill="#333"/>
<path d="M403.0,209.0 C404.2,208.4 407.8,206.1 410.0,205.5 C412.2,204.9 414.6,204.0 416.5,205.6 C418.4,207.2 421.2,210.9 421.7,214.8 C422.2,218.7 421.0,224.2 419.7,229.0 C418.4,233.8 414.6,240.9 413.6,243.3" fill="none" stroke="#545454" stroke-width="4.0" stroke-linecap="round" stroke-linejoin="round"/>
<path d="M262.8,619.6 L267.6,629.7" fill="none" stroke="#555" stroke-width="3.4" stroke-linecap="butt" stroke-linejoin="round"/>
<path d="M262.8,614.2 C261.9,615.8 259.9,620.7 257.4,623.6 C254.9,626.5 252.5,629.2 248.0,631.7 C243.5,634.2 235.7,636.5 230.5,638.5 C225.3,640.5 221.1,641.4 217.0,643.9 C212.9,646.4 208.7,649.9 206.2,653.3 C203.7,656.7 201.9,661.0 202.1,664.1 C202.3,667.2 203.9,670.0 207.5,672.2 C211.1,674.5 218.3,676.4 223.7,677.6 C229.1,678.8 236.6,680.1 239.9,679.6 C243.2,679.1 243.5,677.5 243.3,674.9 C243.1,672.3 240.5,667.9 238.6,664.1 C236.7,660.3 233.6,656.0 231.8,652.0 C230.0,648.0 228.3,642.5 227.6,639.8 C226.9,637.1 227.5,636.6 227.5,636.0" fill="none" stroke="#545454" stroke-width="4.3" stroke-linecap="round" stroke-linejoin="round"/>
<path d="M297.9,646.6 C296.5,648.0 291.7,651.8 289.8,654.7 C287.9,657.6 286.4,660.7 286.4,664.1 C286.4,667.5 287.9,671.3 289.8,674.9 C291.7,678.5 294.8,682.3 297.9,685.7 C301.0,689.1 305.1,692.6 308.7,695.1 C312.3,697.6 315.9,699.4 319.5,700.5 C323.1,701.6 326.0,702.2 330.0,701.5 C334.0,700.8 338.0,700.0 343.7,696.5 C349.4,693.0 357.9,686.1 364.0,680.3 C370.1,674.4 375.8,666.8 380.1,661.4 C384.4,656.0 388.5,651.9 389.6,647.9 C390.7,643.9 388.2,640.5 386.9,637.1 C385.5,633.7 382.4,629.3 381.5,627.7" fill="none" stroke="#545454" stroke-width="4.6" stroke-linecap="round" stroke-linejoin="round"/>
<path d="M392.5,613.0 C391.3,615.2 387.1,622.9 385.5,626.3 C383.9,629.6 381.9,629.7 382.8,633.1 C383.7,636.5 389.8,643.0 390.9,646.6 C392.0,650.2 391.0,650.9 389.6,654.7 C388.2,658.5 384.8,665.0 382.8,669.5 C380.8,674.0 377.8,678.0 377.4,681.6 C376.9,685.2 377.4,688.0 380.1,691.1 C382.8,694.2 389.1,698.1 393.6,700.5 C398.1,702.9 403.1,704.5 407.1,705.2 C411.2,705.9 414.8,706.3 417.9,704.6 C421.0,702.9 423.3,699.2 426.0,695.1 C428.7,691.0 432.4,684.3 434.1,680.3 C435.8,676.2 437.0,673.9 436.1,670.8 C435.2,667.6 430.8,664.1 428.7,661.4 C426.6,658.7 424.2,657.9 423.3,654.7 C422.4,651.6 423.1,645.9 423.3,642.5 C423.5,639.1 424.5,635.8 424.7,634.4" fill="none" stroke="#545454" stroke-width="4.6" stroke-linecap="round" stroke-linejoin="round"/>
<line x1="137.7" y1="86.1" x2="263" y2="86.1" stroke="#111" stroke-width="2.6"/>
<text class="b" x="267.5" y="97.7" font-size="29.6">StrepTagII</text>
</g>
<g id="panel-b">
<text class="b" transform="translate(629,43.5) scale(1.045,1)" font-size="61.5">b.</text>
<text class="b" x="1214" y="92.5" font-size="39" text-anchor="middle">IgM with J-chain</text>
<path d="M696.0,604.8 L696.0,604.7 L697.5,604.6 L699.0,604.5 L700.5,604.4 L702.0,604.2 L703.5,603.9 L705.0,603.6 L706.5,603.2 L708.0,602.6 L709.5,601.8 L711.0,600.8 L712.5,599.5 L714.0,597.8 L715.5,595.8 L717.0,593.2 L718.5,590.1 L720.0,586.3 L721.5,581.8 L723.0,576.5 L724.5,570.4 L726.0,563.3 L727.5,555.2 L729.0,546.2 L730.5,536.2 L732.0,525.4 L733.5,513.7 L735.0,501.4 L736.5,488.6 L738.0,475.6 L739.5,462.5 L741.0,449.7 L742.5,437.5 L744.0,426.1 L745.5,415.8 L747.0,407.0 L748.5,399.9 L750.0,394.6 L751.5,391.4 L753.0,390.3 L754.5,391.4 L756.0,394.6 L757.5,399.8 L759.0,407.0 L760.5,415.8 L762.0,426.0 L763.5,437.4 L765.0,449.6 L766.5,462.3 L768.0,475.3 L769.5,488.2 L771.0,500.7 L772.5,512.7 L774.0,524.0 L775.5,534.3 L777.0,543.5 L778.5,551.5 L780.0,558.2 L781.5,563.5 L783.0,567.4 L784.5,569.8 L786.0,570.7 L787.5,569.9 L789.0,567.5 L790.5,563.3 L792.0,557.2 L793.5,549.4 L795.0,539.6 L796.5,527.8 L798.0,514.2 L799.5,498.7 L801.0,481.4 L802.5,462.6 L804.0,442.4 L805.5,421.2 L807.0,399.4 L808.5,377.4 L810.0,355.7 L811.5,334.8 L813.0,315.3 L814.5,297.8 L816.0,282.7 L817.5,270.5 L819.0,261.5 L820.5,256.1 L822.0,254.5 L823.5,256.7 L825.0,262.5 L826.5,271.9 L828.0,284.6 L829.5,300.0 L831.0,317.9 L832.5,337.6 L834.0,358.7 L835.5,380.5 L837.0,402.7 L838.5,424.6 L840.0,445.8 L841.5,466.1 L843.0,485.1 L844.5,502.6 L846.0,518.5 L847.5,532.7 L849.0,545.2 L850.5,556.1 L852.0,565.4 L853.5,573.3 L855.0,579.8 L856.5,585.3 L858.0,589.7 L859.5,593.2 L861.0,596.0 L862.5,598.2 L864.0,599.9 L865.5,601.2 L867.0,602.2 L868.5,602.9 L870.0,603.5 L871.5,603.9 L873.0,604.2 L874.5,604.4 L876.0,604.5 L877.5,604.6 L879.0,604.7 L880.5,604.7 L882.0,604.7 L883.5,604.8 L885.0,604.8 L886.5,604.8 L888.0,604.8 L889.5,604.8 L891.0,604.8 L892.5,604.8 L894.0,604.8 L895.5,604.8 L897.0,604.7 L898.5,604.7 L900.0,604.7 L901.5,604.7 L903.0,604.7 L904.5,604.7 L906.0,604.6 L907.5,604.6 L909.0,604.6 L910.5,604.5 L912.0,604.5 L913.5,604.4 L915.0,604.3 L916.5,604.3 L918.0,604.2 L919.5,604.1 L921.0,604.0 L922.5,603.9 L924.0,603.8 L925.5,603.7 L927.0,603.5 L928.5,603.4 L930.0,603.2 L931.5,603.1 L933.0,602.9 L934.5,602.7 L936.0,602.6 L937.5,602.4 L939.0,602.2 L940.5,602.0 L942.0,601.8 L943.5,601.6 L945.0,601.5 L946.5,601.3 L948.0,601.1 L949.5,601.0 L951.0,600.8 L952.5,600.7 L954.0,600.6 L955.5,600.5 L957.0,600.4 L958.5,600.3 L960.0,600.3 L961.5,600.3 L963.0,600.3 L964.5,600.3 L966.0,600.3 L967.5,600.4 L969.0,600.5 L970.5,600.6 L972.0,600.7 L973.5,600.8 L975.0,601.0 L976.5,601.1 L978.0,601.3 L979.5,601.5 L981.0,601.6 L982.5,601.8 L984.0,602.0 L985.5,602.2 L987.0,602.3 L988.5,602.5 L990.0,602.7 L991.5,602.8 L993.0,603.0 L994.5,603.1 L996.0,603.3 L997.5,603.4 L999.0,603.5 L1000.5,603.6 L1002.0,603.7 L1003.5,603.8 L1005.0,603.9 L1006.5,603.9 L1008.0,604.0 L1009.5,604.0 L1011.0,604.1 L1012.5,604.1 L1014.0,604.1 L1015.5,604.1 L1017.0,604.1 L1018.5,604.1 L1020.0,604.1 L1021.5,604.1 L1023.0,604.1 L1024.5,604.1 L1026.0,604.1 L1027.5,604.0 L1029.0,604.0 L1030.5,604.0 L1032.0,603.9 L1033.5,603.9 L1035.0,603.9 L1036.5,603.8 L1038.0,603.8 L1039.5,603.7 L1041.0,603.7 L1042.5,603.7 L1044.0,603.6 L1045.5,603.6 L1047.0,603.5 L1048.5,603.5 L1050.0,603.4 L1051.5,603.4 L1053.0,603.3 L1054.5,603.3 L1056.0,603.3 L1057.5,603.2 L1059.0,603.2 L1060.5,603.1 L1062.0,603.1 L1063.5,603.0 L1065.0,603.0 L1066.5,603.0 L1068.0,602.9 L1069.5,602.9 L1071.0,602.9 L1072.5,602.8 L1074.0,602.8 L1075.5,602.8 L1077.0,602.8 L1078.5,602.7 L1080.0,602.7 L1081.5,602.7 L1083.0,602.7 L1084.5,602.7 L1086.0,602.6 L1087.5,602.6 L1089.0,602.6 L1090.5,602.6 L1092.0,602.6 L1093.5,602.6 L1095.0,602.6 L1096.5,602.6 L1098.0,602.6 L1099.5,602.6 L1101.0,602.6 L1102.5,602.5 L1104.0,602.5 L1105.5,602.5 L1107.0,602.5 L1108.5,602.5 L1110.0,602.5 L1111.5,602.5 L1113.0,602.5 L1114.5,602.5 L1116.0,602.5 L1117.5,602.5 L1119.0,602.5 L1120.5,602.5 L1122.0,602.5 L1123.5,602.5 L1125.0,602.5 L1126.5,602.5 L1128.0,602.5 L1129.5,602.5 L1131.0,602.5 L1132.5,602.5 L1134.0,602.5 L1135.5,602.5 L1137.0,602.5 L1138.5,602.5 L1140.0,602.5 L1141.5,602.5 L1143.0,602.5 L1144.5,602.5 L1146.0,602.5 L1147.5,602.5 L1149.0,602.5 L1150.5,602.5 L1152.0,602.5 L1153.5,602.5 L1155.0,602.5 L1156.5,602.5 L1158.0,602.5 L1159.5,602.5 L1161.0,602.5 L1162.5,602.5 L1164.0,602.5 L1165.5,602.5 L1167.0,602.5 L1168.5,602.5 L1170.0,602.4 L1171.5,602.4 L1173.0,602.4 L1174.5,602.3 L1176.0,602.3 L1177.5,602.2 L1179.0,602.1 L1180.5,602.1 L1182.0,602.0 L1183.5,601.9 L1185.0,601.8 L1186.5,601.7 L1188.0,601.6 L1189.5,601.5 L1191.0,601.4 L1192.5,601.3 L1194.0,601.1 L1195.5,601.0 L1197.0,600.9 L1198.5,600.7 L1200.0,600.6 L1201.5,600.5 L1203.0,600.3 L1204.5,600.2 L1206.0,600.1 L1207.5,599.9 L1209.0,599.8 L1210.5,599.7 L1212.0,599.5 L1213.5,599.4 L1215.0,599.3 L1216.5,599.2 L1218.0,599.1 L1219.5,599.0 L1221.0,598.9 L1222.5,598.8 L1224.0,598.7 L1225.5,598.6 L1227.0,598.6 L1228.5,598.5 L1230.0,598.4 L1231.5,598.4 L1233.0,598.3 L1234.5,598.2 L1236.0,598.2 L1237.5,598.1 L1239.0,598.0 L1240.5,597.9 L1242.0,597.8 L1243.5,597.7 L1245.0,597.6 L1246.5,597.5 L1248.0,597.4 L1249.5,597.2 L1251.0,597.0 L1252.5,596.8 L1254.0,596.6 L1255.5,596.3 L1257.0,596.0 L1258.5,595.7 L1260.0,595.3 L1261.5,595.0 L1263.0,594.5 L1264.5,594.0 L1266.0,593.5 L1267.5,592.9 L1269.0,592.3 L1270.5,591.5 L1272.0,590.8 L1273.5,589.9 L1275.0,588.9 L1276.5,587.9 L1278.0,586.7 L1279.5,585.5 L1281.0,584.0 L1282.5,582.5 L1284.0,580.8 L1285.5,578.9 L1287.0,576.9 L1288.5,574.6 L1290.0,572.2 L1291.5,569.5 L1293.0,566.5 L1294.5,563.3 L1296.0,559.8 L1297.5,556.0 L1299.0,551.9 L1300.5,547.4 L1302.0,542.7 L1303.5,537.6 L1305.0,532.2 L1306.5,526.4 L1308.0,520.4 L1309.5,514.0 L1311.0,507.3 L1312.5,500.3 L1314.0,493.0 L1315.5,485.6 L1317.0,477.9 L1318.5,470.1 L1320.0,462.1 L1321.5,454.1 L1323.0,446.1 L1324.5,438.2 L1326.0,430.3 L1327.5,422.6 L1329.0,415.2 L1330.5,408.0 L1332.0,401.2 L1333.5,394.8 L1335.0,388.9 L1336.5,383.5 L1338.0,378.7 L1339.5,374.6 L1341.0,371.1 L1342.5,368.4 L1344.0,366.3 L1345.5,365.1 L1347.0,364.6 L1348.5,365.0 L1350.0,366.1 L1351.5,367.9 L1353.0,370.6 L1354.5,373.9 L1356.0,378.0 L1357.5,382.7 L1359.0,388.0 L1360.5,393.8 L1362.0,400.2 L1363.5,407.0 L1365.0,414.2 L1366.5,421.7 L1368.0,429.5 L1369.5,437.5 L1371.0,445.6 L1372.5,453.8 L1374.0,462.0 L1375.5,470.1 L1377.0,478.2 L1378.5,486.1 L1380.0,493.8 L1381.5,501.3 L1383.0,508.6 L1384.5,515.6 L1386.0,522.3 L1387.5,528.7 L1389.0,534.7 L1390.5,540.4 L1392.0,545.8 L1393.5,550.8 L1395.0,555.4 L1396.5,559.8 L1398.0,563.8 L1399.5,567.4 L1401.0,570.8 L1402.5,573.9 L1404.0,576.7 L1405.5,579.3 L1407.0,581.6 L1408.5,583.7 L1410.0,585.6 L1411.5,587.2 L1413.0,588.8 L1414.5,590.1 L1416.0,591.3 L1417.5,592.4 L1419.0,593.4 L1420.5,594.2 L1422.0,595.0 L1423.5,595.7 L1425.0,596.3 L1426.5,596.9 L1428.0,597.3 L1429.5,597.8 L1431.0,598.2 L1432.5,598.6 L1434.0,598.9 L1435.5,599.2 L1437.0,599.5 L1438.5,599.7 L1440.0,600.0 L1441.5,600.2 L1443.0,600.4 L1444.5,600.6 L1446.0,600.8 L1447.5,600.9 L1449.0,601.1 L1450.5,601.3 L1452.0,601.4 L1453.5,601.6 L1455.0,601.7 L1456.5,601.8 L1458.0,602.0 L1459.5,602.1 L1461.0,602.2 L1462.5,602.3 L1464.0,602.4 L1465.5,602.5 L1467.0,602.6 L1468.5,602.7 L1470.0,602.8 L1471.5,602.9 L1473.0,603.0 L1474.5,603.1 L1476.0,603.2 L1477.5,603.3 L1479.0,603.3 L1480.5,603.4 L1482.0,603.5 L1483.5,603.6 L1485.0,603.6 L1486.5,603.7 L1488.0,603.7 L1489.5,603.8 L1491.0,603.9 L1492.5,603.9 L1494.0,604.0 L1495.5,604.0 L1497.0,604.0 L1498.5,604.1 L1500.0,604.1 L1501.5,604.2 L1503.0,604.2 L1504.5,604.2 L1506.0,604.3 L1507.5,604.3 L1509.0,604.3 L1510.5,604.4 L1512.0,604.4 L1513.5,604.4 L1515.0,604.4 L1516.5,604.5 L1518.0,604.5 L1519.5,604.5 L1521.0,604.5 L1522.5,604.5 L1524.0,604.6 L1525.5,604.6 L1527.0,604.6 L1528.5,604.6 L1530.0,604.6 L1531.5,604.6 L1533.0,604.6 L1534.5,604.7 L1536.0,604.7 L1537.5,604.7 L1539.0,604.7 L1540.5,604.7 L1542.0,604.7 L1543.5,604.7 L1545.0,604.7 L1546.5,604.7 L1548.0,604.7 L1549.5,604.7 L1551.0,604.7 L1552.5,604.7 L1554.0,604.7 L1555.5,604.8 L1557.0,604.8 L1558.5,604.8 L1560.0,604.8 L1561.5,604.8 L1563.0,604.8 L1564.5,604.8 L1566.0,604.8 L1567.5,604.8 L1569.0,604.8 L1570.5,604.8 L1572.0,604.8 L1573.5,604.8 L1575.0,604.8 L1576.5,604.8 L1578.0,604.8 L1579.5,604.8 L1581.0,604.8 L1582.5,604.8 L1584.0,604.8 L1585.5,604.8 L1587.0,604.8 L1588.5,604.8 L1590.0,604.8 L1591.5,604.8 L1593.0,604.8 L1594.5,604.8 L1596.0,604.8 L1597.5,604.8 L1599.0,604.8 L1599.0,604.8 Z" fill="#e8e8e8" stroke="none"/>
<rect x="750.7" y="395" width="5.0" height="210" fill="#2f8dc4"/>
<rect x="819.4" y="260" width="5.0" height="345" fill="#e6a152"/>
<rect x="1344.7" y="371" width="5.0" height="234" fill="#dca97f"/>
<path d="M696.0,604.7 L697.5,604.6 L699.0,604.5 L700.5,604.4 L702.0,604.2 L703.5,603.9 L705.0,603.6 L706.5,603.2 L708.0,602.6 L709.5,601.8 L711.0,600.8 L712.5,599.5 L714.0,597.8 L715.5,595.8 L717.0,593.2 L718.5,590.1 L720.0,586.3 L721.5,581.8 L723.0,576.5 L724.5,570.4 L726.0,563.3 L727.5,555.2 L729.0,546.2 L730.5,536.2 L732.0,525.4 L733.5,513.7 L735.0,501.4 L736.5,488.6 L738.0,475.6 L739.5,462.5 L741.0,449.7 L742.5,437.5 L744.0,426.1 L745.5,415.8 L747.0,407.0 L748.5,399.9 L750.0,394.6 L751.5,391.4 L753.0,390.3 L754.5,391.4 L756.0,394.6 L757.5,399.8 L759.0,407.0 L760.5,415.8 L762.0,426.0 L763.5,437.4 L765.0,449.6 L766.5,462.3 L768.0,475.3 L769.5,488.2 L771.0,500.7 L772.5,512.7 L774.0,524.0 L775.5,534.3 L777.0,543.5 L778.5,551.5 L780.0,558.2 L781.5,563.5 L783.0,567.4 L784.5,569.8 L786.0,570.7 L787.5,569.9 L789.0,567.5 L790.5,563.3 L792.0,557.2 L793.5,549.4 L795.0,539.6 L796.5,527.8 L798.0,514.2 L799.5,498.7 L801.0,481.4 L802.5,462.6 L804.0,442.4 L805.5,421.2 L807.0,399.4 L808.5,377.4 L810.0,355.7 L811.5,334.8 L813.0,315.3 L814.5,297.8 L816.0,282.7 L817.5,270.5 L819.0,261.5 L820.5,256.1 L822.0,254.5 L823.5,256.7 L825.0,262.5 L826.5,271.9 L828.0,284.6 L829.5,300.0 L831.0,317.9 L832.5,337.6 L834.0,358.7 L835.5,380.5 L837.0,402.7 L838.5,424.6 L840.0,445.8 L841.5,466.1 L843.0,485.1 L844.5,502.6 L846.0,518.5 L847.5,532.7 L849.0,545.2 L850.5,556.1 L852.0,565.4 L853.5,573.3 L855.0,579.8 L856.5,585.3 L858.0,589.7 L859.5,593.2 L861.0,596.0 L862.5,598.2 L864.0,599.9 L865.5,601.2 L867.0,602.2 L868.5,602.9 L870.0,603.5 L871.5,603.9 L873.0,604.2 L874.5,604.4 L876.0,604.5 L877.5,604.6 L879.0,604.7 L880.5,604.7 L882.0,604.7 L883.5,604.8 L885.0,604.8 L886.5,604.8 L888.0,604.8 L889.5,604.8 L891.0,604.8 L892.5,604.8 L894.0,604.8 L895.5,604.8 L897.0,604.7 L898.5,604.7 L900.0,604.7 L901.5,604.7 L903.0,604.7 L904.5,604.7 L906.0,604.6 L907.5,604.6 L909.0,604.6 L910.5,604.5 L912.0,604.5 L913.5,604.4 L915.0,604.3 L916.5,604.3 L918.0,604.2 L919.5,604.1 L921.0,604.0 L922.5,603.9 L924.0,603.8 L925.5,603.7 L927.0,603.5 L928.5,603.4 L930.0,603.2 L931.5,603.1 L933.0,602.9 L934.5,602.7 L936.0,602.6 L937.5,602.4 L939.0,602.2 L940.5,602.0 L942.0,601.8 L943.5,601.6 L945.0,601.5 L946.5,601.3 L948.0,601.1 L949.5,601.0 L951.0,600.8 L952.5,600.7 L954.0,600.6 L955.5,600.5 L957.0,600.4 L958.5,600.3 L960.0,600.3 L961.5,600.3 L963.0,600.3 L964.5,600.3 L966.0,600.3 L967.5,600.4 L969.0,600.5 L970.5,600.6 L972.0,600.7 L973.5,600.8 L975.0,601.0 L976.5,601.1 L978.0,601.3 L979.5,601.5 L981.0,601.6 L982.5,601.8 L984.0,602.0 L985.5,602.2 L987.0,602.3 L988.5,602.5 L990.0,602.7 L991.5,602.8 L993.0,603.0 L994.5,603.1 L996.0,603.3 L997.5,603.4 L999.0,603.5 L1000.5,603.6 L1002.0,603.7 L1003.5,603.8 L1005.0,603.9 L1006.5,603.9 L1008.0,604.0 L1009.5,604.0 L1011.0,604.1 L1012.5,604.1 L1014.0,604.1 L1015.5,604.1 L1017.0,604.1 L1018.5,604.1 L1020.0,604.1 L1021.5,604.1 L1023.0,604.1 L1024.5,604.1 L1026.0,604.1 L1027.5,604.0 L1029.0,604.0 L1030.5,604.0 L1032.0,603.9 L1033.5,603.9 L1035.0,603.9 L1036.5,603.8 L1038.0,603.8 L1039.5,603.7 L1041.0,603.7 L1042.5,603.7 L1044.0,603.6 L1045.5,603.6 L1047.0,603.5 L1048.5,603.5 L1050.0,603.4 L1051.5,603.4 L1053.0,603.3 L1054.5,603.3 L1056.0,603.3 L1057.5,603.2 L1059.0,603.2 L1060.5,603.1 L1062.0,603.1 L1063.5,603.0 L1065.0,603.0 L1066.5,603.0 L1068.0,602.9 L1069.5,602.9 L1071.0,602.9 L1072.5,602.8 L1074.0,602.8 L1075.5,602.8 L1077.0,602.8 L1078.5,602.7 L1080.0,602.7 L1081.5,602.7 L1083.0,602.7 L1084.5,602.7 L1086.0,602.6 L1087.5,602.6 L1089.0,602.6 L1090.5,602.6 L1092.0,602.6 L1093.5,602.6 L1095.0,602.6 L1096.5,602.6 L1098.0,602.6 L1099.5,602.6 L1101.0,602.6 L1102.5,602.5 L1104.0,602.5 L1105.5,602.5 L1107.0,602.5 L1108.5,602.5 L1110.0,602.5 L1111.5,602.5 L1113.0,602.5 L1114.5,602.5 L1116.0,602.5 L1117.5,602.5 L1119.0,602.5 L1120.5,602.5 L1122.0,602.5 L1123.5,602.5 L1125.0,602.5 L1126.5,602.5 L1128.0,602.5 L1129.5,602.5 L1131.0,602.5 L1132.5,602.5 L1134.0,602.5 L1135.5,602.5 L1137.0,602.5 L1138.5,602.5 L1140.0,602.5 L1141.5,602.5 L1143.0,602.5 L1144.5,602.5 L1146.0,602.5 L1147.5,602.5 L1149.0,602.5 L1150.5,602.5 L1152.0,602.5 L1153.5,602.5 L1155.0,602.5 L1156.5,602.5 L1158.0,602.5 L1159.5,602.5 L1161.0,602.5 L1162.5,602.5 L1164.0,602.5 L1165.5,602.5 L1167.0,602.5 L1168.5,602.5 L1170.0,602.4 L1171.5,602.4 L1173.0,602.4 L1174.5,602.3 L1176.0,602.3 L1177.5,602.2 L1179.0,602.1 L1180.5,602.1 L1182.0,602.0 L1183.5,601.9 L1185.0,601.8 L1186.5,601.7 L1188.0,601.6 L1189.5,601.5 L1191.0,601.4 L1192.5,601.3 L1194.0,601.1 L1195.5,601.0 L1197.0,600.9 L1198.5,600.7 L1200.0,600.6 L1201.5,600.5 L1203.0,600.3 L1204.5,600.2 L1206.0,600.1 L1207.5,599.9 L1209.0,599.8 L1210.5,599.7 L1212.0,599.5 L1213.5,599.4 L1215.0,599.3 L1216.5,599.2 L1218.0,599.1 L1219.5,599.0 L1221.0,598.9 L1222.5,598.8 L1224.0,598.7 L1225.5,598.6 L1227.0,598.6 L1228.5,598.5 L1230.0,598.4 L1231.5,598.4 L1233.0,598.3 L1234.5,598.2 L1236.0,598.2 L1237.5,598.1 L1239.0,598.0 L1240.5,597.9 L1242.0,597.8 L1243.5,597.7 L1245.0,597.6 L1246.5,597.5 L1248.0,597.4 L1249.5,597.2 L1251.0,597.0 L1252.5,596.8 L1254.0,596.6 L1255.5,596.3 L1257.0,596.0 L1258.5,595.7 L1260.0,595.3 L1261.5,595.0 L1263.0,594.5 L1264.5,594.0 L1266.0,593.5 L1267.5,592.9 L1269.0,592.3 L1270.5,591.5 L1272.0,590.8 L1273.5,589.9 L1275.0,588.9 L1276.5,587.9 L1278.0,586.7 L1279.5,585.5 L1281.0,584.0 L1282.5,582.5 L1284.0,580.8 L1285.5,578.9 L1287.0,576.9 L1288.5,574.6 L1290.0,572.2 L1291.5,569.5 L1293.0,566.5 L1294.5,563.3 L1296.0,559.8 L1297.5,556.0 L1299.0,551.9 L1300.5,547.4 L1302.0,542.7 L1303.5,537.6 L1305.0,532.2 L1306.5,526.4 L1308.0,520.4 L1309.5,514.0 L1311.0,507.3 L1312.5,500.3 L1314.0,493.0 L1315.5,485.6 L1317.0,477.9 L1318.5,470.1 L1320.0,462.1 L1321.5,454.1 L1323.0,446.1 L1324.5,438.2 L1326.0,430.3 L1327.5,422.6 L1329.0,415.2 L1330.5,408.0 L1332.0,401.2 L1333.5,394.8 L1335.0,388.9 L1336.5,383.5 L1338.0,378.7 L1339.5,374.6 L1341.0,371.1 L1342.5,368.4 L1344.0,366.3 L1345.5,365.1 L1347.0,364.6 L1348.5,365.0 L1350.0,366.1 L1351.5,367.9 L1353.0,370.6 L1354.5,373.9 L1356.0,378.0 L1357.5,382.7 L1359.0,388.0 L1360.5,393.8 L1362.0,400.2 L1363.5,407.0 L1365.0,414.2 L1366.5,421.7 L1368.0,429.5 L1369.5,437.5 L1371.0,445.6 L1372.5,453.8 L1374.0,462.0 L1375.5,470.1 L1377.0,478.2 L1378.5,486.1 L1380.0,493.8 L1381.5,501.3 L1383.0,508.6 L1384.5,515.6 L1386.0,522.3 L1387.5,528.7 L1389.0,534.7 L1390.5,540.4 L1392.0,545.8 L1393.5,550.8 L1395.0,555.4 L1396.5,559.8 L1398.0,563.8 L1399.5,567.4 L1401.0,570.8 L1402.5,573.9 L1404.0,576.7 L1405.5,579.3 L1407.0,581.6 L1408.5,583.7 L1410.0,585.6 L1411.5,587.2 L1413.0,588.8 L1414.5,590.1 L1416.0,591.3 L1417.5,592.4 L1419.0,593.4 L1420.5,594.2 L1422.0,595.0 L1423.5,595.7 L1425.0,596.3 L1426.5,596.9 L1428.0,597.3 L1429.5,597.8 L1431.0,598.2 L1432.5,598.6 L1434.0,598.9 L1435.5,599.2 L1437.0,599.5 L1438.5,599.7 L1440.0,600.0 L1441.5,600.2 L1443.0,600.4 L1444.5,600.6 L1446.0,600.8 L1447.5,600.9 L1449.0,601.1 L1450.5,601.3 L1452.0,601.4 L1453.5,601.6 L1455.0,601.7 L1456.5,601.8 L1458.0,602.0 L1459.5,602.1 L1461.0,602.2 L1462.5,602.3 L1464.0,602.4 L1465.5,602.5 L1467.0,602.6 L1468.5,602.7 L1470.0,602.8 L1471.5,602.9 L1473.0,603.0 L1474.5,603.1 L1476.0,603.2 L1477.5,603.3 L1479.0,603.3 L1480.5,603.4 L1482.0,603.5 L1483.5,603.6 L1485.0,603.6 L1486.5,603.7 L1488.0,603.7 L1489.5,603.8 L1491.0,603.9 L1492.5,603.9 L1494.0,604.0 L1495.5,604.0 L1497.0,604.0 L1498.5,604.1 L1500.0,604.1 L1501.5,604.2 L1503.0,604.2 L1504.5,604.2 L1506.0,604.3 L1507.5,604.3 L1509.0,604.3 L1510.5,604.4 L1512.0,604.4 L1513.5,604.4 L1515.0,604.4 L1516.5,604.5 L1518.0,604.5 L1519.5,604.5 L1521.0,604.5 L1522.5,604.5 L1524.0,604.6 L1525.5,604.6 L1527.0,604.6 L1528.5,604.6 L1530.0,604.6 L1531.5,604.6 L1533.0,604.6 L1534.5,604.7 L1536.0,604.7 L1537.5,604.7 L1539.0,604.7 L1540.5,604.7 L1542.0,604.7 L1543.5,604.7 L1545.0,604.7 L1546.5,604.7 L1548.0,604.7 L1549.5,604.7 L1551.0,604.7 L1552.5,604.7 L1554.0,604.7 L1555.5,604.8 L1557.0,604.8 L1558.5,604.8 L1560.0,604.8 L1561.5,604.8 L1563.0,604.8 L1564.5,604.8 L1566.0,604.8 L1567.5,604.8 L1569.0,604.8 L1570.5,604.8 L1572.0,604.8 L1573.5,604.8 L1575.0,604.8 L1576.5,604.8 L1578.0,604.8 L1579.5,604.8 L1581.0,604.8 L1582.5,604.8 L1584.0,604.8 L1585.5,604.8 L1587.0,604.8 L1588.5,604.8 L1590.0,604.8 L1591.5,604.8 L1593.0,604.8 L1594.5,604.8 L1596.0,604.8 L1597.5,604.8 L1599.0,604.8" fill="none" stroke="#aaaaaa" stroke-width="4.6" stroke-linejoin="round"/>
<path d="M696,125.5 V604.8 H1731.3" fill="none" stroke="#262626" stroke-width="3.4"/>
<line x1="695.3" y1="604.8" x2="695.3" y2="623.3" stroke="#262626" stroke-width="3"/>
<text x="695.3" y="665.3" font-size="33.8" text-anchor="middle">0</text>
<line x1="824.8" y1="604.8" x2="824.8" y2="623.3" stroke="#262626" stroke-width="3"/>
<text x="824.8" y="665.3" font-size="33.8" text-anchor="middle">200</text>
<line x1="954.3" y1="604.8" x2="954.3" y2="623.3" stroke="#262626" stroke-width="3"/>
<text x="954.3" y="665.3" font-size="33.8" text-anchor="middle">400</text>
<line x1="1083.8" y1="604.8" x2="1083.8" y2="623.3" stroke="#262626" stroke-width="3"/>
<text x="1083.8" y="665.3" font-size="33.8" text-anchor="middle">600</text>
<line x1="1213.3" y1="604.8" x2="1213.3" y2="623.3" stroke="#262626" stroke-width="3"/>
<text x="1213.3" y="665.3" font-size="33.8" text-anchor="middle">800</text>
<line x1="1342.8" y1="604.8" x2="1342.8" y2="623.3" stroke="#262626" stroke-width="3"/>
<text x="1342.8" y="665.3" font-size="33.8" text-anchor="middle">1000</text>
<line x1="1472.3" y1="604.8" x2="1472.3" y2="623.3" stroke="#262626" stroke-width="3"/>
<text x="1472.3" y="665.3" font-size="33.8" text-anchor="middle">1200</text>
<line x1="1601.8" y1="604.8" x2="1601.8" y2="623.3" stroke="#262626" stroke-width="3"/>
<text x="1601.8" y="665.3" font-size="33.8" text-anchor="middle">1400</text>
<line x1="1731.3" y1="604.8" x2="1731.3" y2="623.3" stroke="#262626" stroke-width="3"/>
<text x="1731.3" y="665.3" font-size="33.8" text-anchor="middle">1600</text>
<text class="b" x="1213" y="719.3" font-size="39" text-anchor="middle">Mass (kDa)</text>
<text class="b" transform="translate(668.5,366) rotate(-90)" font-size="39.3" text-anchor="middle">Density</text>
<text class="b" x="782.3" y="170.6" font-size="33.9">(IgM)<tspan font-size="18.5" dy="11" dx="1">1</tspan></text>
<text x="829" y="211.5" font-size="33.7" text-anchor="middle">194 kDa</text>
<text class="b" x="1305.5" y="284.5" font-size="33.9">(IgM)<tspan font-size="18.5" dy="11" dx="1">5</tspan></text>
<text x="1351" y="326.7" font-size="33.7" text-anchor="middle">1006 kDa</text>
</g>
<g id="panel-c">
<text class="b" transform="translate(-0.5,834.7) scale(1.045,1)" font-size="61.5">c.</text>
<rect x="148.9" y="870.6" width="7.3" height="346.6" fill="#000"/>
<rect x="140.2" y="1210.2" width="637.4" height="7" fill="#000"/>
<rect x="140.3" y="1209.9" width="9.7" height="6.8" fill="#000"/>
<rect x="140.3" y="1201.5" width="9.7" height="6.8" fill="#000"/>
<rect x="140.3" y="1194.2" width="9.7" height="6.8" fill="#000"/>
<rect x="140.3" y="1187.8" width="9.7" height="6.8" fill="#000"/>
<rect x="134.1" y="1182.0" width="15.9" height="6.8" fill="#000"/>
<rect x="140.3" y="1144.1" width="9.7" height="6.8" fill="#000"/>
<rect x="140.3" y="1122.0" width="9.7" height="6.8" fill="#000"/>
<rect x="140.3" y="1106.3" width="9.7" height="6.8" fill="#000"/>
<rect x="140.3" y="1094.1" width="9.7" height="6.8" fill="#000"/>
<rect x="140.3" y="1084.1" width="9.7" height="6.8" fill="#000"/>
<rect x="140.3" y="1075.7" width="9.7" height="6.8" fill="#000"/>
<rect x="140.3" y="1068.4" width="9.7" height="6.8" fill="#000"/>
<rect x="140.3" y="1062.0" width="9.7" height="6.8" fill="#000"/>
<rect x="134.1" y="1056.2" width="15.9" height="6.8" fill="#000"/>
<rect x="140.3" y="1018.3" width="9.7" height="6.8" fill="#000"/>
<rect x="140.3" y="996.2" width="9.7" height="6.8" fill="#000"/>
<rect x="140.3" y="980.5" width="9.7" height="6.8" fill="#000"/>
<rect x="140.3" y="968.3" width="9.7" height="6.8" fill="#000"/>
<rect x="140.3" y="958.3" width="9.7" height="6.8" fill="#000"/>
<rect x="140.3" y="949.9" width="9.7" height="6.8" fill="#000"/>
<rect x="140.3" y="942.6" width="9.7" height="6.8" fill="#000"/>
<rect x="140.3" y="936.2" width="9.7" height="6.8" fill="#000"/>
<rect x="134.1" y="930.4" width="15.9" height="6.8" fill="#000"/>
<rect x="140.3" y="892.5" width="9.7" height="6.8" fill="#000"/>
<rect x="140.3" y="870.4" width="9.7" height="6.8" fill="#000"/>
<text class="b" x="93" y="1194.3" font-size="24.5">10<tspan font-size="17.5" dy="-8.6" dx="1.5">0</tspan></text>
<text class="b" x="93" y="1068.5" font-size="24.5">10<tspan font-size="17.5" dy="-8.6" dx="1.5">1</tspan></text>
<text class="b" x="93" y="942.7" font-size="24.5">10<tspan font-size="17.5" dy="-8.6" dx="1.5">2</tspan></text>
<rect x="148.9" y="1213" width="7.3" height="19.2" fill="#000"/>
<rect x="209.6" y="1201.5" width="13.6" height="24" fill="#000"/>
<rect x="248.8" y="1213" width="6.8" height="14.4" fill="#000"/>
<rect x="268.4" y="1213" width="6.8" height="14.4" fill="#000"/>
<rect x="282.2" y="1213" width="6.8" height="14.4" fill="#000"/>
<rect x="293.0" y="1213" width="6.8" height="14.4" fill="#000"/>
<rect x="301.8" y="1213" width="6.8" height="14.4" fill="#000"/>
<rect x="309.2" y="1213" width="6.8" height="14.4" fill="#000"/>
<rect x="315.6" y="1213" width="6.8" height="14.4" fill="#000"/>
<rect x="321.3" y="1213" width="6.8" height="14.4" fill="#000"/>
<rect x="326.4" y="1213" width="6.8" height="23.5" fill="#000"/>
<rect x="359.8" y="1213" width="6.8" height="14.4" fill="#000"/>
<rect x="379.4" y="1213" width="6.8" height="14.4" fill="#000"/>
<rect x="393.2" y="1213" width="6.8" height="14.4" fill="#000"/>
<rect x="404.0" y="1213" width="6.8" height="14.4" fill="#000"/>
<rect x="412.8" y="1213" width="6.8" height="14.4" fill="#000"/>
<rect x="420.2" y="1213" width="6.8" height="14.4" fill="#000"/>
<rect x="426.6" y="1213" width="6.8" height="14.4" fill="#000"/>
<rect x="432.3" y="1213" width="6.8" height="14.4" fill="#000"/>
<rect x="437.4" y="1213" width="6.8" height="23.5" fill="#000"/>
<rect x="470.8" y="1213" width="6.8" height="14.4" fill="#000"/>
<rect x="490.4" y="1213" width="6.8" height="14.4" fill="#000"/>
<rect x="504.2" y="1213" width="6.8" height="14.4" fill="#000"/>
<rect x="515.0" y="1213" width="6.8" height="14.4" fill="#000"/>
<rect x="523.8" y="1213" width="6.8" height="14.4" fill="#000"/>
<rect x="531.2" y="1213" width="6.8" height="14.4" fill="#000"/>
<rect x="537.6" y="1213" width="6.8" height="14.4" fill="#000"/>
<rect x="543.3" y="1213" width="6.8" height="14.4" fill="#000"/>
<rect x="548.4" y="1213" width="6.8" height="23.5" fill="#000"/>
<rect x="581.8" y="1213" width="6.8" height="14.4" fill="#000"/>
<rect x="601.4" y="1213" width="6.8" height="14.4" fill="#000"/>
<rect x="615.2" y="1213" width="6.8" height="14.4" fill="#000"/>
<rect x="626.0" y="1213" width="6.8" height="14.4" fill="#000"/>
<rect x="634.8" y="1213" width="6.8" height="14.4" fill="#000"/>
<rect x="642.2" y="1213" width="6.8" height="14.4" fill="#000"/>
<rect x="648.6" y="1213" width="6.8" height="14.4" fill="#000"/>
<rect x="654.3" y="1213" width="6.8" height="14.4" fill="#000"/>
<rect x="659.4" y="1213" width="6.8" height="23.5" fill="#000"/>
<rect x="692.8" y="1213" width="6.8" height="14.4" fill="#000"/>
<rect x="712.4" y="1213" width="6.8" height="14.4" fill="#000"/>
<rect x="726.2" y="1213" width="6.8" height="14.4" fill="#000"/>
<rect x="737.0" y="1213" width="6.8" height="14.4" fill="#000"/>
<rect x="745.8" y="1213" width="6.8" height="14.4" fill="#000"/>
<rect x="753.2" y="1213" width="6.8" height="14.4" fill="#000"/>
<rect x="759.6" y="1213" width="6.8" height="14.4" fill="#000"/>
<rect x="765.3" y="1213" width="6.8" height="14.4" fill="#000"/>
<rect x="770.4" y="1213" width="6.8" height="23.5" fill="#000"/>
<text class="b" transform="translate(159.5,1250.0) rotate(-45)" font-size="24.5" text-anchor="end">0</text>
<text class="b" transform="translate(226.0,1255.5) rotate(-45)" font-size="24.5" text-anchor="end">10<tspan font-size="17.5" dy="-8.6">-5</tspan></text>
<text class="b" transform="translate(335.8,1257.5) rotate(-45)" font-size="24.5" text-anchor="end">10<tspan font-size="17.5" dy="-8.6">-4</tspan></text>
<text class="b" transform="translate(446.8,1257.5) rotate(-45)" font-size="24.5" text-anchor="end">10<tspan font-size="17.5" dy="-8.6">-3</tspan></text>
<text class="b" transform="translate(557.8,1257.5) rotate(-45)" font-size="24.5" text-anchor="end">10<tspan font-size="17.5" dy="-8.6">-2</tspan></text>
<text class="b" transform="translate(668.8,1257.5) rotate(-45)" font-size="24.5" text-anchor="end">10<tspan font-size="17.5" dy="-8.6">-1</tspan></text>
<text class="b" transform="translate(779.8,1257.5) rotate(-45)" font-size="24.5" text-anchor="end">10<tspan font-size="17.5" dy="-8.6">0</tspan></text>
<path d="M152.6,1162.5 L244.2,1161.5 L297.2,1161.5 L350.1,1161.5 L403.1,1161.0 L456.1,1160.5 L509.0,1160.0 L562.0,1159.5 L614.9,1159.0 L667.9,1159.0 L720.8,1158.0 L773.8,1159.0" fill="none" stroke="#ff88d6" stroke-width="2.4" stroke-dasharray="9 3.6"/>
<path d="M152.6,1149.5 V1175.5 M144.6,1149.5 h16 M144.6,1175.5 h16" fill="none" stroke="#ff88d6" stroke-width="2.4"/>
<path d="M244.2,1148.5 V1174.5 M236.2,1148.5 h16 M236.2,1174.5 h16" fill="none" stroke="#ff88d6" stroke-width="2.4"/>
<path d="M297.2,1148.5 V1174.5 M289.2,1148.5 h16 M289.2,1174.5 h16" fill="none" stroke="#ff88d6" stroke-width="2.4"/>
<path d="M350.1,1148.5 V1174.5 M342.1,1148.5 h16 M342.1,1174.5 h16" fill="none" stroke="#ff88d6" stroke-width="2.4"/>
<path d="M403.1,1148.0 V1174.0 M395.1,1148.0 h16 M395.1,1174.0 h16" fill="none" stroke="#ff88d6" stroke-width="2.4"/>
<path d="M456.1,1147.5 V1173.5 M448.1,1147.5 h16 M448.1,1173.5 h16" fill="none" stroke="#ff88d6" stroke-width="2.4"/>
<path d="M509.0,1147.0 V1173.0 M501.0,1147.0 h16 M501.0,1173.0 h16" fill="none" stroke="#ff88d6" stroke-width="2.4"/>
<path d="M562.0,1146.5 V1172.5 M554.0,1146.5 h16 M554.0,1172.5 h16" fill="none" stroke="#ff88d6" stroke-width="2.4"/>
<path d="M614.9,1146.0 V1172.0 M606.9,1146.0 h16 M606.9,1172.0 h16" fill="none" stroke="#ff88d6" stroke-width="2.4"/>
<path d="M667.9,1146.0 V1172.0 M659.9,1146.0 h16 M659.9,1172.0 h16" fill="none" stroke="#ff88d6" stroke-width="2.4"/>
<path d="M720.8,1145.0 V1171.0 M712.8,1145.0 h16 M712.8,1171.0 h16" fill="none" stroke="#ff88d6" stroke-width="2.4"/>
<path d="M773.8,1146.0 V1172.0 M765.8,1146.0 h16 M765.8,1172.0 h16" fill="none" stroke="#ff88d6" stroke-width="2.4"/>
<circle cx="152.6" cy="1162.5" r="5.6" fill="#fff" stroke="#ff88d6" stroke-width="4.4"/>
<circle cx="244.2" cy="1161.5" r="5.6" fill="#fff" stroke="#ff88d6" stroke-width="4.4"/>
<circle cx="297.2" cy="1161.5" r="5.6" fill="#fff" stroke="#ff88d6" stroke-width="4.4"/>
<circle cx="350.1" cy="1161.5" r="5.6" fill="#fff" stroke="#ff88d6" stroke-width="4.4"/>
<circle cx="403.1" cy="1161.0" r="5.6" fill="#fff" stroke="#ff88d6" stroke-width="4.4"/>
<circle cx="456.1" cy="1160.5" r="5.6" fill="#fff" stroke="#ff88d6" stroke-width="4.4"/>
<circle cx="509.0" cy="1160.0" r="5.6" fill="#fff" stroke="#ff88d6" stroke-width="4.4"/>
<circle cx="562.0" cy="1159.5" r="5.6" fill="#fff" stroke="#ff88d6" stroke-width="4.4"/>
<circle cx="614.9" cy="1159.0" r="5.6" fill="#fff" stroke="#ff88d6" stroke-width="4.4"/>
<circle cx="667.9" cy="1159.0" r="5.6" fill="#fff" stroke="#ff88d6" stroke-width="4.4"/>
<circle cx="720.8" cy="1158.0" r="5.6" fill="#fff" stroke="#ff88d6" stroke-width="4.4"/>
<circle cx="773.8" cy="1159.0" r="5.6" fill="#fff" stroke="#ff88d6" stroke-width="4.4"/>
<path d="M152.6,1162.0 L244.2,1161.0 L297.2,1161.0 L350.1,1161.0 L403.1,1160.5 L456.1,1160.0 L509.0,1159.5 L562.0,1159.0 L614.9,1159.0 L667.9,1159.0 L720.8,1158.5 L773.8,1160.0" fill="none" stroke="#fb8078" stroke-width="2.4" stroke-dasharray="9 3.6"/>
<path d="M152.6,1149.0 V1175.0 M144.6,1149.0 h16 M144.6,1175.0 h16" fill="none" stroke="#fb8078" stroke-width="2.4"/>
<path d="M244.2,1148.0 V1174.0 M236.2,1148.0 h16 M236.2,1174.0 h16" fill="none" stroke="#fb8078" stroke-width="2.4"/>
<path d="M297.2,1148.0 V1174.0 M289.2,1148.0 h16 M289.2,1174.0 h16" fill="none" stroke="#fb8078" stroke-width="2.4"/>
<path d="M350.1,1148.0 V1174.0 M342.1,1148.0 h16 M342.1,1174.0 h16" fill="none" stroke="#fb8078" stroke-width="2.4"/>
<path d="M403.1,1147.5 V1173.5 M395.1,1147.5 h16 M395.1,1173.5 h16" fill="none" stroke="#fb8078" stroke-width="2.4"/>
<path d="M456.1,1146.5 V1173.5 M448.1,1146.5 h16 M448.1,1173.5 h16" fill="none" stroke="#fb8078" stroke-width="2.4"/>
<path d="M509.0,1146.0 V1173.0 M501.0,1146.0 h16 M501.0,1173.0 h16" fill="none" stroke="#fb8078" stroke-width="2.4"/>
<path d="M562.0,1146.0 V1172.0 M554.0,1146.0 h16 M554.0,1172.0 h16" fill="none" stroke="#fb8078" stroke-width="2.4"/>
<path d="M614.9,1146.0 V1172.0 M606.9,1146.0 h16 M606.9,1172.0 h16" fill="none" stroke="#fb8078" stroke-width="2.4"/>
<path d="M667.9,1146.0 V1172.0 M659.9,1146.0 h16 M659.9,1172.0 h16" fill="none" stroke="#fb8078" stroke-width="2.4"/>
<path d="M720.8,1145.5 V1171.5 M712.8,1145.5 h16 M712.8,1171.5 h16" fill="none" stroke="#fb8078" stroke-width="2.4"/>
<path d="M773.8,1142.5 V1177.5 M765.8,1142.5 h16 M765.8,1177.5 h16" fill="none" stroke="#fb8078" stroke-width="2.4"/>
<circle cx="152.6" cy="1162.0" r="5.6" fill="#fff" stroke="#fb8078" stroke-width="4.4"/>
<circle cx="244.2" cy="1161.0" r="5.6" fill="#fff" stroke="#fb8078" stroke-width="4.4"/>
<circle cx="297.2" cy="1161.0" r="5.6" fill="#fff" stroke="#fb8078" stroke-width="4.4"/>
<circle cx="350.1" cy="1161.0" r="5.6" fill="#fff" stroke="#fb8078" stroke-width="4.4"/>
<circle cx="403.1" cy="1160.5" r="5.6" fill="#fff" stroke="#fb8078" stroke-width="4.4"/>
<circle cx="456.1" cy="1160.0" r="5.6" fill="#fff" stroke="#fb8078" stroke-width="4.4"/>
<circle cx="509.0" cy="1159.5" r="5.6" fill="#fff" stroke="#fb8078" stroke-width="4.4"/>
<circle cx="562.0" cy="1159.0" r="5.6" fill="#fff" stroke="#fb8078" stroke-width="4.4"/>
<circle cx="614.9" cy="1159.0" r="5.6" fill="#fff" stroke="#fb8078" stroke-width="4.4"/>
<circle cx="667.9" cy="1159.0" r="5.6" fill="#fff" stroke="#fb8078" stroke-width="4.4"/>
<circle cx="720.8" cy="1158.5" r="5.6" fill="#fff" stroke="#fb8078" stroke-width="4.4"/>
<circle cx="773.8" cy="1160.0" r="5.6" fill="#fff" stroke="#fb8078" stroke-width="4.4"/>
<path d="M152.6,1162.0 L244.2,1160.5 L297.2,1160.5 L350.1,1160.2 L403.1,1160.0 L456.1,1159.2 L509.0,1158.8 L562.0,1158.6 L614.9,1158.8 L667.9,1158.6 L720.8,1157.5 L773.8,1158.5" fill="none" stroke="#8080ff" stroke-width="2.4" stroke-dasharray="9 3.6"/>
<path d="M152.6,1149.5 V1174.5 M144.6,1149.5 h16 M144.6,1174.5 h16" fill="none" stroke="#8080ff" stroke-width="2.4"/>
<path d="M244.2,1148.0 V1173.0 M236.2,1148.0 h16 M236.2,1173.0 h16" fill="none" stroke="#8080ff" stroke-width="2.4"/>
<path d="M297.2,1148.0 V1173.0 M289.2,1148.0 h16 M289.2,1173.0 h16" fill="none" stroke="#8080ff" stroke-width="2.4"/>
<path d="M350.1,1147.7 V1172.7 M342.1,1147.7 h16 M342.1,1172.7 h16" fill="none" stroke="#8080ff" stroke-width="2.4"/>
<path d="M403.1,1147.5 V1172.5 M395.1,1147.5 h16 M395.1,1172.5 h16" fill="none" stroke="#8080ff" stroke-width="2.4"/>
<path d="M456.1,1146.7 V1171.7 M448.1,1146.7 h16 M448.1,1171.7 h16" fill="none" stroke="#8080ff" stroke-width="2.4"/>
<path d="M509.0,1146.3 V1171.3 M501.0,1146.3 h16 M501.0,1171.3 h16" fill="none" stroke="#8080ff" stroke-width="2.4"/>
<path d="M562.0,1146.1 V1171.1 M554.0,1146.1 h16 M554.0,1171.1 h16" fill="none" stroke="#8080ff" stroke-width="2.4"/>
<path d="M614.9,1146.3 V1171.3 M606.9,1146.3 h16 M606.9,1171.3 h16" fill="none" stroke="#8080ff" stroke-width="2.4"/>
<path d="M667.9,1146.1 V1171.1 M659.9,1146.1 h16 M659.9,1171.1 h16" fill="none" stroke="#8080ff" stroke-width="2.4"/>
<path d="M720.8,1145.0 V1170.0 M712.8,1145.0 h16 M712.8,1170.0 h16" fill="none" stroke="#8080ff" stroke-width="2.4"/>
<path d="M773.8,1146.0 V1171.0 M765.8,1146.0 h16 M765.8,1171.0 h16" fill="none" stroke="#8080ff" stroke-width="2.4"/>
<circle cx="152.6" cy="1162.0" r="5.6" fill="#fff" stroke="#8080ff" stroke-width="4.4"/>
<circle cx="244.2" cy="1160.5" r="5.6" fill="#fff" stroke="#8080ff" stroke-width="4.4"/>
<circle cx="297.2" cy="1160.5" r="5.6" fill="#fff" stroke="#8080ff" stroke-width="4.4"/>
<circle cx="350.1" cy="1160.2" r="5.6" fill="#fff" stroke="#8080ff" stroke-width="4.4"/>
<circle cx="403.1" cy="1160.0" r="5.6" fill="#fff" stroke="#8080ff" stroke-width="4.4"/>
<circle cx="456.1" cy="1159.2" r="5.6" fill="#fff" stroke="#8080ff" stroke-width="4.4"/>
<circle cx="509.0" cy="1158.8" r="5.6" fill="#fff" stroke="#8080ff" stroke-width="4.4"/>
<circle cx="562.0" cy="1158.6" r="5.6" fill="#fff" stroke="#8080ff" stroke-width="4.4"/>
<circle cx="614.9" cy="1158.8" r="5.6" fill="#fff" stroke="#8080ff" stroke-width="4.4"/>
<circle cx="667.9" cy="1158.6" r="5.6" fill="#fff" stroke="#8080ff" stroke-width="4.4"/>
<circle cx="720.8" cy="1157.5" r="5.6" fill="#fff" stroke="#8080ff" stroke-width="4.4"/>
<circle cx="773.8" cy="1158.5" r="5.6" fill="#fff" stroke="#8080ff" stroke-width="4.4"/>
<path d="M152.6,1162.0 L244.2,1158.0 L297.2,1153.0 L350.1,1141.0 L403.1,1120.4 L456.1,1085.3 L509.0,1041.9 L562.0,991.4 L614.9,942.3 L667.9,904.3 L720.8,895.9 L773.8,903.2" fill="none" stroke="#ff88d6" stroke-width="2.4"/>
<path d="M152.6,1151.5 V1172.5 M144.6,1151.5 h16 M144.6,1172.5 h16" fill="none" stroke="#ff88d6" stroke-width="2.4"/>
<path d="M244.2,1149.0 V1167.0 M236.2,1149.0 h16 M236.2,1167.0 h16" fill="none" stroke="#ff88d6" stroke-width="2.4"/>
<path d="M297.2,1144.0 V1162.0 M289.2,1144.0 h16 M289.2,1162.0 h16" fill="none" stroke="#ff88d6" stroke-width="2.4"/>
<path d="M350.1,1132.0 V1150.0 M342.1,1132.0 h16 M342.1,1150.0 h16" fill="none" stroke="#ff88d6" stroke-width="2.4"/>
<path d="M403.1,1111.4 V1129.4 M395.1,1111.4 h16 M395.1,1129.4 h16" fill="none" stroke="#ff88d6" stroke-width="2.4"/>
<path d="M456.1,1076.2 V1094.4 M448.1,1076.2 h16 M448.1,1094.4 h16" fill="none" stroke="#ff88d6" stroke-width="2.4"/>
<path d="M509.0,1032.5 V1051.3 M501.0,1032.5 h16 M501.0,1051.3 h16" fill="none" stroke="#ff88d6" stroke-width="2.4"/>
<path d="M562.0,982.6 V1000.2 M554.0,982.6 h16 M554.0,1000.2 h16" fill="none" stroke="#ff88d6" stroke-width="2.4"/>
<path d="M614.9,932.1 V952.5 M606.9,932.1 h16 M606.9,952.5 h16" fill="none" stroke="#ff88d6" stroke-width="2.4"/>
<path d="M667.9,895.5 V913.1 M659.9,895.5 h16 M659.9,913.1 h16" fill="none" stroke="#ff88d6" stroke-width="2.4"/>
<path d="M720.8,889.1 V902.7 M712.8,889.1 h16 M712.8,902.7 h16" fill="none" stroke="#ff88d6" stroke-width="2.4"/>
<path d="M773.8,892.7 V913.7 M765.8,892.7 h16 M765.8,913.7 h16" fill="none" stroke="#ff88d6" stroke-width="2.4"/>
<circle cx="152.6" cy="1162.0" r="6.8" fill="#ff88d6"/>
<circle cx="244.2" cy="1158.0" r="6.8" fill="#ff88d6"/>
<circle cx="297.2" cy="1153.0" r="6.8" fill="#ff88d6"/>
<circle cx="350.1" cy="1141.0" r="6.8" fill="#ff88d6"/>
<circle cx="403.1" cy="1120.4" r="6.8" fill="#ff88d6"/>
<circle cx="456.1" cy="1085.3" r="6.8" fill="#ff88d6"/>
<circle cx="509.0" cy="1041.9" r="6.8" fill="#ff88d6"/>
<circle cx="562.0" cy="991.4" r="6.8" fill="#ff88d6"/>
<circle cx="614.9" cy="942.3" r="6.8" fill="#ff88d6"/>
<circle cx="667.9" cy="904.3" r="6.8" fill="#ff88d6"/>
<circle cx="720.8" cy="895.9" r="6.8" fill="#ff88d6"/>
<circle cx="773.8" cy="903.2" r="6.8" fill="#ff88d6"/>
<path d="M152.6,1162.0 L244.2,1148.6 L297.2,1144.0 L350.1,1131.6 L403.1,1105.8 L456.1,1069.0 L509.0,1023.1 L562.0,977.4 L614.9,931.0 L667.9,895.2 L720.8,884.6 L773.8,890.7" fill="none" stroke="#fb8078" stroke-width="2.4"/>
<path d="M152.6,1151.5 V1172.5 M144.6,1151.5 h16 M144.6,1172.5 h16" fill="none" stroke="#fb8078" stroke-width="2.4"/>
<path d="M244.2,1138.3 V1158.9 M236.2,1138.3 h16 M236.2,1158.9 h16" fill="none" stroke="#fb8078" stroke-width="2.4"/>
<path d="M297.2,1133.2 V1154.8 M289.2,1133.2 h16 M289.2,1154.8 h16" fill="none" stroke="#fb8078" stroke-width="2.4"/>
<path d="M350.1,1118.8 V1144.4 M342.1,1118.8 h16 M342.1,1144.4 h16" fill="none" stroke="#fb8078" stroke-width="2.4"/>
<path d="M403.1,1094.8 V1116.8 M395.1,1094.8 h16 M395.1,1116.8 h16" fill="none" stroke="#fb8078" stroke-width="2.4"/>
<path d="M456.1,1059.0 V1079.0 M448.1,1059.0 h16 M448.1,1079.0 h16" fill="none" stroke="#fb8078" stroke-width="2.4"/>
<path d="M509.0,1011.3 V1034.9 M501.0,1011.3 h16 M501.0,1034.9 h16" fill="none" stroke="#fb8078" stroke-width="2.4"/>
<path d="M562.0,965.9 V988.9 M554.0,965.9 h16 M554.0,988.9 h16" fill="none" stroke="#fb8078" stroke-width="2.4"/>
<path d="M614.9,917.1 V944.9 M606.9,917.1 h16 M606.9,944.9 h16" fill="none" stroke="#fb8078" stroke-width="2.4"/>
<path d="M667.9,883.3 V907.1 M659.9,883.3 h16 M659.9,907.1 h16" fill="none" stroke="#fb8078" stroke-width="2.4"/>
<path d="M720.8,876.6 V892.6 M712.8,876.6 h16 M712.8,892.6 h16" fill="none" stroke="#fb8078" stroke-width="2.4"/>
<path d="M773.8,883.2 V898.2 M765.8,883.2 h16 M765.8,898.2 h16" fill="none" stroke="#fb8078" stroke-width="2.4"/>
<circle cx="152.6" cy="1162.0" r="6.8" fill="#fb8078"/>
<circle cx="244.2" cy="1148.6" r="6.8" fill="#fb8078"/>
<circle cx="297.2" cy="1144.0" r="6.8" fill="#fb8078"/>
<circle cx="350.1" cy="1131.6" r="6.8" fill="#fb8078"/>
<circle cx="403.1" cy="1105.8" r="6.8" fill="#fb8078"/>
<circle cx="456.1" cy="1069.0" r="6.8" fill="#fb8078"/>
<circle cx="509.0" cy="1023.1" r="6.8" fill="#fb8078"/>
<circle cx="562.0" cy="977.4" r="6.8" fill="#fb8078"/>
<circle cx="614.9" cy="931.0" r="6.8" fill="#fb8078"/>
<circle cx="667.9" cy="895.2" r="6.8" fill="#fb8078"/>
<circle cx="720.8" cy="884.6" r="6.8" fill="#fb8078"/>
<circle cx="773.8" cy="890.7" r="6.8" fill="#fb8078"/>
<path d="M152.6,1162.0 L244.2,1160.0 L297.2,1155.0 L350.1,1150.0 L403.1,1137.3 L456.1,1112.4 L509.0,1074.7 L562.0,1028.7 L614.9,978.5 L667.9,931.4 L720.8,912.9 L773.8,917.9" fill="none" stroke="#8080ff" stroke-width="2.4"/>
<path d="M152.6,1151.0 V1173.0 M144.6,1151.0 h16 M144.6,1173.0 h16" fill="none" stroke="#8080ff" stroke-width="2.4"/>
<path d="M244.2,1149.0 V1171.0 M236.2,1149.0 h16 M236.2,1171.0 h16" fill="none" stroke="#8080ff" stroke-width="2.4"/>
<path d="M297.2,1144.0 V1166.0 M289.2,1144.0 h16 M289.2,1166.0 h16" fill="none" stroke="#8080ff" stroke-width="2.4"/>
<path d="M350.1,1139.5 V1160.5 M342.1,1139.5 h16 M342.1,1160.5 h16" fill="none" stroke="#8080ff" stroke-width="2.4"/>
<path d="M403.1,1127.1 V1147.5 M395.1,1127.1 h16 M395.1,1147.5 h16" fill="none" stroke="#8080ff" stroke-width="2.4"/>
<path d="M456.1,1102.2 V1122.6 M448.1,1102.2 h16 M448.1,1122.6 h16" fill="none" stroke="#8080ff" stroke-width="2.4"/>
<path d="M509.0,1063.4 V1086.0 M501.0,1063.4 h16 M501.0,1086.0 h16" fill="none" stroke="#8080ff" stroke-width="2.4"/>
<path d="M562.0,1015.4 V1042.0 M554.0,1015.4 h16 M554.0,1042.0 h16" fill="none" stroke="#8080ff" stroke-width="2.4"/>
<path d="M614.9,964.2 V992.8 M606.9,964.2 h16 M606.9,992.8 h16" fill="none" stroke="#8080ff" stroke-width="2.4"/>
<path d="M667.9,917.6 V945.2 M659.9,917.6 h16 M659.9,945.2 h16" fill="none" stroke="#8080ff" stroke-width="2.4"/>
<path d="M720.8,905.3 V920.5 M712.8,905.3 h16 M712.8,920.5 h16" fill="none" stroke="#8080ff" stroke-width="2.4"/>
<path d="M773.8,910.4 V925.4 M765.8,910.4 h16 M765.8,925.4 h16" fill="none" stroke="#8080ff" stroke-width="2.4"/>
<circle cx="152.6" cy="1162.0" r="6.8" fill="#8080ff"/>
<circle cx="244.2" cy="1160.0" r="6.8" fill="#8080ff"/>
<circle cx="297.2" cy="1155.0" r="6.8" fill="#8080ff"/>
<circle cx="350.1" cy="1150.0" r="6.8" fill="#8080ff"/>
<circle cx="403.1" cy="1137.3" r="6.8" fill="#8080ff"/>
<circle cx="456.1" cy="1112.4" r="6.8" fill="#8080ff"/>
<circle cx="509.0" cy="1074.7" r="6.8" fill="#8080ff"/>
<circle cx="562.0" cy="1028.7" r="6.8" fill="#8080ff"/>
<circle cx="614.9" cy="978.5" r="6.8" fill="#8080ff"/>
<circle cx="667.9" cy="931.4" r="6.8" fill="#8080ff"/>
<circle cx="720.8" cy="912.9" r="6.8" fill="#8080ff"/>
<circle cx="773.8" cy="917.9" r="6.8" fill="#8080ff"/>
<polygon points="212.5,1140 218.5,1140 216.5,1175 210.5,1175" fill="#fff"/>
<text class="b" transform="translate(44.4,1043.7) rotate(-90)" font-size="27.5" text-anchor="middle">Antibody binding</text>
<text transform="translate(73,1044) rotate(-90)" font-size="22.5" text-anchor="middle">(GeoMFI-H Goat-anti-human-κ-AF488)</text>
<text class="b" x="464" y="1328.5" font-size="27.5" text-anchor="middle">[mAb] (µg/mL)</text>
<text class="b" x="835" y="876.2" font-size="27.6">MG1655-OmpX-</text>
<text class="b" x="835" y="911" font-size="27.6">StrepTagII:</text>
<text class="b" x="835" y="1109.4" font-size="27.6">MG1655 Wt:</text>
<line x1="850" y1="949.8" x2="888.4" y2="949.8" stroke="#8080ff" stroke-width="2.4"/>
<circle cx="869.3" cy="949.8" r="6.8" fill="#8080ff"/>
<text x="908" y="959.3" font-size="27">IgM</text>
<line x1="850" y1="997.0" x2="888.4" y2="997.0" stroke="#fb8078" stroke-width="2.4"/>
<circle cx="869.3" cy="997.0" r="6.8" fill="#fb8078"/>
<text x="908" y="1007.2" font-size="27">IgG1</text>
<line x1="850" y1="1045.0" x2="888.4" y2="1045.0" stroke="#ff88d6" stroke-width="2.4"/>
<circle cx="869.3" cy="1045.0" r="6.8" fill="#ff88d6"/>
<text x="908" y="1055.1" font-size="27">IgG4</text>
<line x1="850" y1="1139.8" x2="883.7" y2="1139.8" stroke="#8080ff" stroke-width="2.4"/>
<circle cx="869.3" cy="1139.8" r="5.6" fill="#fff" stroke="#8080ff" stroke-width="4.4"/>
<text x="908" y="1148.9" font-size="27">IgM</text>
<line x1="850" y1="1186.9" x2="883.7" y2="1186.9" stroke="#fb8078" stroke-width="2.4"/>
<circle cx="869.3" cy="1186.9" r="5.6" fill="#fff" stroke="#fb8078" stroke-width="4.4"/>
<text x="908" y="1196.9" font-size="27">IgG1</text>
<line x1="850" y1="1234.3" x2="883.7" y2="1234.3" stroke="#ff88d6" stroke-width="2.4"/>
<circle cx="869.3" cy="1234.3" r="5.6" fill="#fff" stroke="#ff88d6" stroke-width="4.4"/>
<text x="908" y="1244.4" font-size="27">IgG4</text>
</g>
<g id="panel-d">
<text class="b" transform="translate(1056.5,836.3) scale(1.045,1)" font-size="61.5">d.</text>
<rect x="1445.8" y="889.2" width="49.3" height="322.1" fill="#8080ff" stroke="#000" stroke-width="5.0"/>
<rect x="1565.9" y="893.9" width="49.3" height="317.4" fill="#ff807a" stroke="#000" stroke-width="5.0"/>
<rect x="1685.8" y="1088.0" width="49.3" height="123.3" fill="#ff88d8" stroke="#000" stroke-width="5.0"/>
<path d="M1710.4,963.4 V1208.6 M1696,963.4 H1725 M1697,1207.5 H1723.5" stroke="#000" stroke-width="2.6" fill="none"/>
<path d="M1590.5,885.7 V897.7 M1576,885.7 H1605" stroke="#000" stroke-width="2.6" fill="none"/>
<line x1="1243.9" y1="865.5" x2="1243.9" y2="1213.9" stroke="#000" stroke-width="5.2"/>
<line x1="1226" y1="1211.3" x2="1763" y2="1211.3" stroke="#000" stroke-width="5.4"/>
<line x1="1226" y1="1211.3" x2="1243.9" y2="1211.3" stroke="#000" stroke-width="5.2"/>
<text class="b" x="1220" y="1222.2" font-size="31" text-anchor="end">0</text>
<line x1="1233.5" y1="1194.6" x2="1243.9" y2="1194.6" stroke="#000" stroke-width="5"/>
<line x1="1233.5" y1="1177.9" x2="1243.9" y2="1177.9" stroke="#000" stroke-width="5"/>
<line x1="1233.5" y1="1161.3" x2="1243.9" y2="1161.3" stroke="#000" stroke-width="5"/>
<line x1="1233.5" y1="1144.6" x2="1243.9" y2="1144.6" stroke="#000" stroke-width="5"/>
<line x1="1226" y1="1127.9" x2="1243.9" y2="1127.9" stroke="#000" stroke-width="5.2"/>
<text class="b" x="1220" y="1138.8" font-size="31" text-anchor="end">25</text>
<line x1="1233.5" y1="1111.2" x2="1243.9" y2="1111.2" stroke="#000" stroke-width="5"/>
<line x1="1233.5" y1="1094.5" x2="1243.9" y2="1094.5" stroke="#000" stroke-width="5"/>
<line x1="1233.5" y1="1077.9" x2="1243.9" y2="1077.9" stroke="#000" stroke-width="5"/>
<line x1="1233.5" y1="1061.2" x2="1243.9" y2="1061.2" stroke="#000" stroke-width="5"/>
<line x1="1226" y1="1044.5" x2="1243.9" y2="1044.5" stroke="#000" stroke-width="5.2"/>
<text class="b" x="1220" y="1055.4" font-size="31" text-anchor="end">50</text>
<line x1="1233.5" y1="1027.8" x2="1243.9" y2="1027.8" stroke="#000" stroke-width="5"/>
<line x1="1233.5" y1="1011.1" x2="1243.9" y2="1011.1" stroke="#000" stroke-width="5"/>
<line x1="1233.5" y1="994.5" x2="1243.9" y2="994.5" stroke="#000" stroke-width="5"/>
<line x1="1233.5" y1="977.8" x2="1243.9" y2="977.8" stroke="#000" stroke-width="5"/>
<line x1="1226" y1="961.1" x2="1243.9" y2="961.1" stroke="#000" stroke-width="5.2"/>
<text class="b" x="1220" y="972.0" font-size="31" text-anchor="end">75</text>
<line x1="1233.5" y1="944.4" x2="1243.9" y2="944.4" stroke="#000" stroke-width="5"/>
<line x1="1233.5" y1="927.7" x2="1243.9" y2="927.7" stroke="#000" stroke-width="5"/>
<line x1="1233.5" y1="911.1" x2="1243.9" y2="911.1" stroke="#000" stroke-width="5"/>
<line x1="1233.5" y1="894.4" x2="1243.9" y2="894.4" stroke="#000" stroke-width="5"/>
<line x1="1226" y1="877.7" x2="1243.9" y2="877.7" stroke="#000" stroke-width="5.2"/>
<text class="b" x="1220" y="888.6" font-size="31" text-anchor="end">100</text>
<line x1="1323.1" y1="1211.3" x2="1323.1" y2="1228.8" stroke="#000" stroke-width="4.8"/>
<line x1="1443.4" y1="1211.3" x2="1443.4" y2="1228.8" stroke="#000" stroke-width="4.8"/>
<line x1="1563.4" y1="1211.3" x2="1563.4" y2="1228.8" stroke="#000" stroke-width="4.8"/>
<line x1="1683.2" y1="1211.3" x2="1683.2" y2="1228.8" stroke="#000" stroke-width="4.8"/>
<polygon points="1281.1,1200.3 1270.1,1220.3 1292.1,1220.3" fill="#000"/>
<polygon points="1297.1,1198.8 1286.1,1218.8 1308.1,1218.8" fill="#000"/>
<polygon points="1313.1,1199.8 1302.1,1219.8 1324.1,1219.8" fill="#000"/>
<polygon points="1401.4,1200.3 1390.4,1220.3 1412.4,1220.3" fill="#000"/>
<polygon points="1417.4,1198.8 1406.4,1218.8 1428.4,1218.8" fill="#000"/>
<polygon points="1433.4,1199.8 1422.4,1219.8 1444.4,1219.8" fill="#000"/>
<polygon points="1521.4,1200.3 1510.4,1220.3 1532.4,1220.3" fill="#000"/>
<polygon points="1537.4,1198.8 1526.4,1218.8 1548.4,1218.8" fill="#000"/>
<polygon points="1553.4,1199.8 1542.4,1219.8 1564.4,1219.8" fill="#000"/>
<polygon points="1641.2,1200.3 1630.2,1220.3 1652.2,1220.3" fill="#000"/>
<polygon points="1657.2,1198.8 1646.2,1218.8 1668.2,1218.8" fill="#000"/>
<polygon points="1673.2,1199.8 1662.2,1219.8 1684.2,1219.8" fill="#000"/>
<circle cx="1334.7" cy="1207.0" r="10.2" fill="#000"/>
<circle cx="1350.2" cy="1203.6" r="10.2" fill="#000"/>
<circle cx="1366.7" cy="1205.6" r="10.2" fill="#000"/>
<circle cx="1453.5" cy="886.3" r="10.2" fill="#000"/>
<circle cx="1470.3" cy="885.6" r="10.2" fill="#000"/>
<circle cx="1486.8" cy="886.3" r="10.2" fill="#000"/>
<circle cx="1574.3" cy="897.2" r="10.2" fill="#000"/>
<circle cx="1590.9" cy="887.0" r="10.2" fill="#000"/>
<circle cx="1607.4" cy="889.5" r="10.2" fill="#000"/>
<circle cx="1710.4" cy="966.4" r="10.2" fill="#000"/>
<circle cx="1710.4" cy="1079.2" r="10.2" fill="#000"/>
<circle cx="1710.4" cy="1211.2" r="10.2" fill="#000"/>
<polygon points="1278.9,866.0 1267.9,887.0 1289.9,887.0" fill="#000"/>
<circle cx="1278.9" cy="934.2" r="10.5" fill="#000"/>
<text x="1326.5" y="886.3" font-size="33">0%</text>
<text x="1326.5" y="945.2" font-size="33">1.25%</text>
<text class="b" transform="translate(1114.5,1037) rotate(-90)" font-size="35" letter-spacing="-0.7" text-anchor="middle">Sytox Blue</text>
<text transform="translate(1149.4,1037.3) rotate(-90)" font-size="27.8" letter-spacing="-0.3" text-anchor="middle">(% positive bacteria)</text>
<text class="b" transform="translate(1329.6,1258.0) rotate(-45)" font-size="31" text-anchor="end">No Ab</text>
<text class="b" transform="translate(1449.9,1258.0) rotate(-45)" font-size="31" text-anchor="end">IgM</text>
<text class="b" transform="translate(1569.9,1258.0) rotate(-45)" font-size="31" text-anchor="end">IgG1</text>
<text class="b" transform="translate(1689.7,1258.0) rotate(-45)" font-size="31" text-anchor="end">IgG4</text>
</g>
</svg>
</body></html>
